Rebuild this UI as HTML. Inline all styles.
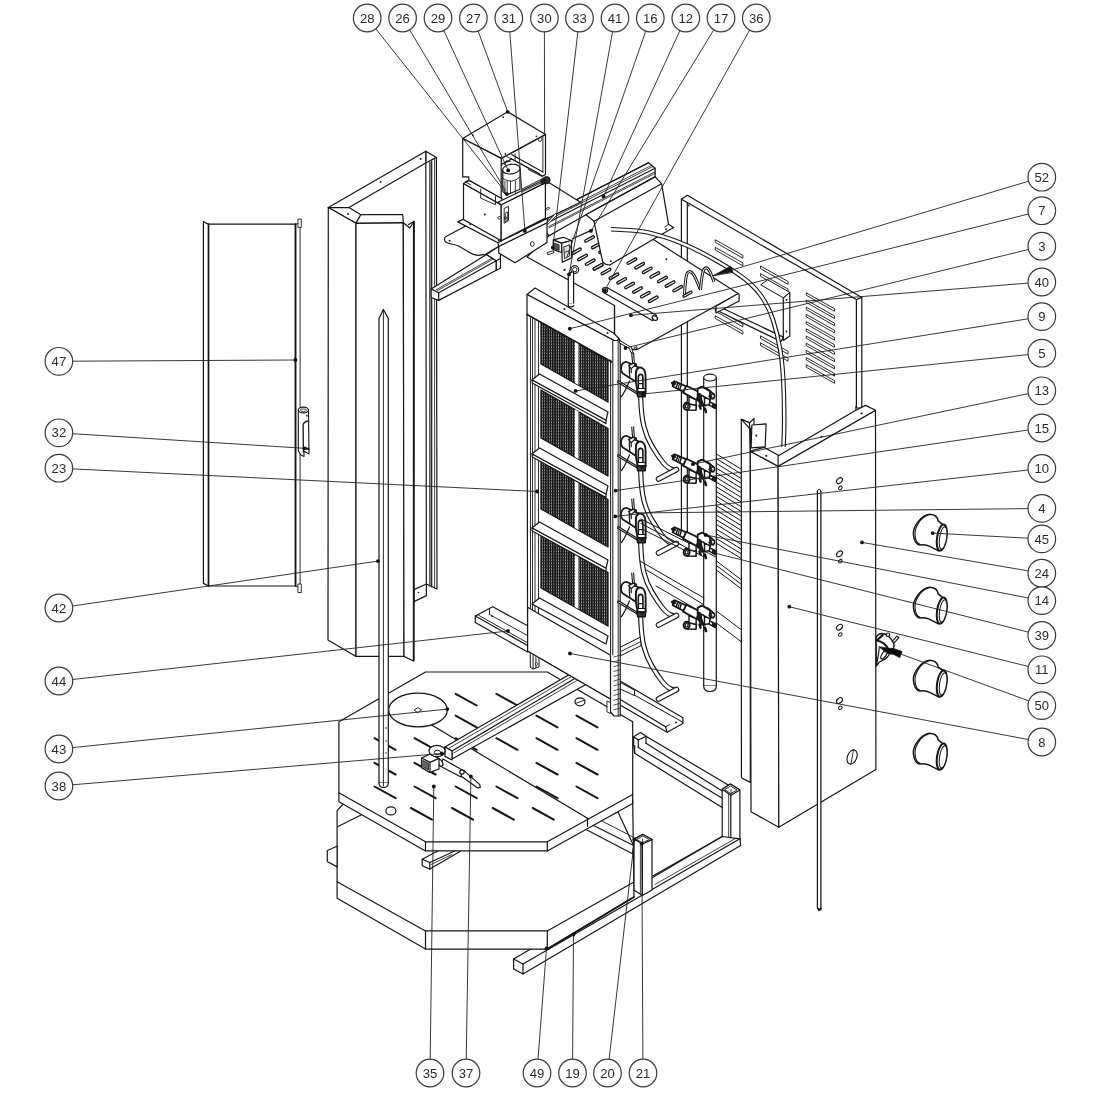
<!DOCTYPE html>
<html><head><meta charset="utf-8"><title>Exploded view</title>
<style>
html,body{margin:0;padding:0;background:#fff;}
body{width:1100px;height:1100px;overflow:hidden;}
svg{display:block;font-family:"Liberation Sans",sans-serif;}
svg path,svg line{stroke-linecap:round;stroke-linejoin:round;}
</style></head><body>
<svg width="1100" height="1100" viewBox="0 0 1100 1100">
<rect width="1100" height="1100" fill="#fff"/>
<defs><pattern id="mesh" width="2.3" height="1.5" patternUnits="userSpaceOnUse"><rect width="2.3" height="1.5" fill="#fff"/><rect x="0" y="0" width="1.7" height="1.5" fill="#0c0c0c"/><rect x="0" y="0" width="2.3" height="0.7" fill="#222"/></pattern></defs>
<path d="M681.4,199.2 L687.3,195.3 L861.8,297.4 L861.8,408.0 L856.4,408.0 L856.4,299.6 L687.3,202.6 L687.3,533.0 L681.4,531.0 Z" fill="none" stroke="#151515" stroke-width="1.2" />
<line x1="681.4" y1="199.2" x2="687.3" y2="202.6" stroke="#151515" stroke-width="1.2"/>
<line x1="856.4" y1="299.6" x2="861.8" y2="297.4" stroke="#151515" stroke-width="1.2"/>
<circle cx="688.8" cy="205.5" r="0.9" fill="#222"/>
<path d="M806.6,293.0 L834.5,308.7 L834.5,311.3 L806.6,295.4 Z" fill="none" stroke="#151515" stroke-width="0.9" />
<path d="M806.6,300.2 L834.5,315.9 L834.5,318.5 L806.6,302.6 Z" fill="none" stroke="#151515" stroke-width="0.9" />
<path d="M806.6,307.4 L834.5,323.1 L834.5,325.7 L806.6,309.8 Z" fill="none" stroke="#151515" stroke-width="0.9" />
<path d="M806.6,314.6 L834.5,330.3 L834.5,332.9 L806.6,317.0 Z" fill="none" stroke="#151515" stroke-width="0.9" />
<path d="M806.6,321.8 L834.5,337.5 L834.5,340.1 L806.6,324.2 Z" fill="none" stroke="#151515" stroke-width="0.9" />
<path d="M806.6,329.0 L834.5,344.7 L834.5,347.3 L806.6,331.4 Z" fill="none" stroke="#151515" stroke-width="0.9" />
<path d="M806.6,336.2 L834.5,351.9 L834.5,354.5 L806.6,338.6 Z" fill="none" stroke="#151515" stroke-width="0.9" />
<path d="M806.6,343.4 L834.5,359.1 L834.5,361.7 L806.6,345.8 Z" fill="none" stroke="#151515" stroke-width="0.9" />
<path d="M806.6,350.6 L834.5,366.3 L834.5,368.9 L806.6,353.0 Z" fill="none" stroke="#151515" stroke-width="0.9" />
<path d="M806.6,357.8 L834.5,373.5 L834.5,376.1 L806.6,360.2 Z" fill="none" stroke="#151515" stroke-width="0.9" />
<path d="M806.6,365.0 L834.5,380.7 L834.5,383.3 L806.6,367.4 Z" fill="none" stroke="#151515" stroke-width="0.9" />
<path d="M715.6,240.0 L742.9,255.3 L742.9,258.2 L715.6,242.6 Z" fill="none" stroke="#151515" stroke-width="0.9" />
<path d="M715.6,247.6 L742.9,262.9 L742.9,265.8 L715.6,250.2 Z" fill="none" stroke="#151515" stroke-width="0.9" />
<path d="M760.8,266.2 L788.1,281.5 L788.1,284.4 L760.8,268.8 Z" fill="none" stroke="#151515" stroke-width="0.9" />
<path d="M760.8,273.8 L788.1,289.1 L788.1,292.0 L760.8,276.4 Z" fill="none" stroke="#151515" stroke-width="0.9" />
<path d="M715.6,308.7 L742.9,324.0 L742.9,326.9 L715.6,311.3 Z" fill="none" stroke="#151515" stroke-width="0.9" />
<path d="M715.6,316.0 L742.9,331.3 L742.9,334.2 L715.6,318.6 Z" fill="none" stroke="#151515" stroke-width="0.9" />
<path d="M760.8,336.0 L788.1,351.3 L788.1,354.2 L760.8,338.6 Z" fill="none" stroke="#151515" stroke-width="0.9" />
<path d="M760.8,343.0 L788.1,358.3 L788.1,361.2 L760.8,345.6 Z" fill="none" stroke="#151515" stroke-width="0.9" />
<path d="M718.9,306.5 L783.3,337.1 L781.1,341.5 L715.6,309.8 Z" fill="#fff" stroke="#151515" stroke-width="1.2" />
<path d="M783.3,297.8 L789.8,292.4 L789.8,336.0 L783.3,340.4 Z" fill="#fff" stroke="#151515" stroke-width="1.2" />
<path d="M761.0,285.0 L783.3,297.8 L789.8,292.4 L768.0,280.0 Z" fill="#fff" stroke="#151515" stroke-width="1.0" />
<circle cx="786.5" cy="300.0" r="0.9" fill="#222"/>
<circle cx="786.5" cy="331.5" r="0.9" fill="#222"/>
<path d="M203.4,221.6 L208.5,224.2 L295.6,224.2 L295.6,586.0 L208.5,586.0 L203.4,583.4 Z" fill="#fff" stroke="#151515" stroke-width="1.2" />
<line x1="208.5" y1="224.2" x2="208.5" y2="586.0" stroke="#151515" stroke-width="1.7"/>
<path d="M295.6,224.2 L300.1,223.0 L300.1,588.0 L295.6,586.0 Z" fill="#fff" stroke="#151515" stroke-width="0.9" />
<line x1="295.6" y1="224.2" x2="295.6" y2="586.0" stroke="#151515" stroke-width="1.7"/>
<path d="M298.3,219.0 L301.3,219.0 L301.3,227.4 L298.3,227.4 Z" fill="#fff" stroke="#151515" stroke-width="0.9" />
<path d="M298.3,584.0 L301.3,584.0 L301.3,592.5 L298.3,592.5 Z" fill="#fff" stroke="#151515" stroke-width="0.9" />
<path d="M298.3,410.0 L298.3,451.0 L301.0,455.0 L304.0,456.5 L304.0,451.0 L309.0,454.0 L308.5,410.0 Z" fill="#fff" stroke="#151515" stroke-width="1.1" />
<ellipse cx="303.4" cy="410.0" rx="5.1" ry="2.9" transform="rotate(0 303.4 410.0)" fill="#fff" stroke="#151515" stroke-width="1.2"/>
<ellipse cx="303.3" cy="410.2" rx="3.2" ry="1.3" transform="rotate(0 303.3 410.2)" fill="#fff" stroke="#151515" stroke-width="0.8"/>
<path d="M308,421 Q303.5,422 303.1,425 L303.4,452" fill="none" stroke="#151515" stroke-width="1.3" />
<line x1="304.5" y1="448.0" x2="308.5" y2="449.0" stroke="#151515" stroke-width="2.0"/>
<circle cx="307.0" cy="415.7" r="0.9" fill="#222"/>
<path d="M425.8,151.2 L436.4,157.5 L437.0,589.0 L426.4,584.0 Z" fill="#fff" stroke="#151515" stroke-width="1.2" />
<line x1="429.9" y1="162.0" x2="429.9" y2="586.0" stroke="#151515" stroke-width="1.2"/>
<line x1="431.7" y1="161.0" x2="431.7" y2="587.0" stroke="#151515" stroke-width="1.2"/>
<line x1="434.6" y1="159.0" x2="434.6" y2="588.0" stroke="#151515" stroke-width="0.8"/>
<line x1="425.8" y1="163.0" x2="435.3" y2="157.9" stroke="#151515" stroke-width="1.2"/>
<path d="M414.0,589.6 L426.4,584.0 L426.4,595.6 L414.0,601.6 Z" fill="#fff" stroke="#151515" stroke-width="1.2" />
<circle cx="418.5" cy="592.5" r="0.8" fill="#222"/>
<path d="M328.3,207.6 L425.8,151.2 L425.8,163.0 L349.0,207.6 Z" fill="#fff" stroke="#151515" stroke-width="1.2" />
<path d="M328.3,207.6 L349.0,207.6 L360.8,214.7 L356.0,223.3 Z" fill="#fff" stroke="#151515" stroke-width="1.2" />
<circle cx="420.7" cy="158.9" r="1.0" fill="#222"/>
<circle cx="380.6" cy="182.0" r="1.0" fill="#222"/>
<circle cx="348.0" cy="214.1" r="1.0" fill="#222"/>
<circle cx="382.6" cy="219.8" r="1.0" fill="#222"/>
<path d="M328.3,207.6 L356.0,223.3 L356.0,656.4 L328.0,640.0 Z" fill="#fff" stroke="#151515" stroke-width="1.2" />
<path d="M356.0,223.3 L360.8,214.7 L402.7,214.5 L403.3,222.7 L404.0,656.4 L356.0,656.4 Z" fill="#fff" stroke="#151515" stroke-width="1.2" />
<line x1="356.0" y1="223.3" x2="403.3" y2="222.7" stroke="#151515" stroke-width="1.4"/>
<path d="M403.3,222.7 L409.8,228.0 L414.0,221.5 L413.6,661.0 L404.0,656.4 Z" fill="#fff" stroke="#151515" stroke-width="1.2" />
<line x1="408.6" y1="224.5" x2="414.0" y2="221.5" stroke="#151515" stroke-width="1.2"/>
<line x1="413.8" y1="222.0" x2="413.7" y2="660.5" stroke="#151515" stroke-width="1.8"/>
<path d="M527,257 L614.5,305.5 L614.5,338 L618,340 L630.5,348.2 Q634.5,351 638.5,348.8 L738.2,293.6 L739.1,294.5 L739.1,301 L716,313 L716,306.2 L738.2,293.6 L599.7,205.3 L549,235.8 Z" fill="#fff" stroke="#151515" stroke-width="1.2" />
<rect x="626.5" y="260.0" width="10.8" height="2.3" rx="1.15" transform="rotate(-29.0 631.9 261.2)" fill="#fff" stroke="#151515" stroke-width="1.3"/>
<rect x="634.2" y="264.6" width="10.8" height="2.3" rx="1.15" transform="rotate(-29.0 639.6 265.7)" fill="#fff" stroke="#151515" stroke-width="1.3"/>
<rect x="641.8" y="269.2" width="10.8" height="2.3" rx="1.15" transform="rotate(-29.0 647.2 270.3)" fill="#fff" stroke="#151515" stroke-width="1.3"/>
<rect x="649.4" y="273.8" width="10.8" height="2.3" rx="1.15" transform="rotate(-29.0 654.8 274.9)" fill="#fff" stroke="#151515" stroke-width="1.3"/>
<rect x="657.1" y="278.3" width="10.8" height="2.3" rx="1.15" transform="rotate(-29.0 662.5 279.5)" fill="#fff" stroke="#151515" stroke-width="1.3"/>
<rect x="664.7" y="282.9" width="10.8" height="2.3" rx="1.15" transform="rotate(-29.0 670.1 284.1)" fill="#fff" stroke="#151515" stroke-width="1.3"/>
<rect x="672.3" y="287.5" width="10.8" height="2.3" rx="1.15" transform="rotate(-29.0 677.7 288.7)" fill="#fff" stroke="#151515" stroke-width="1.3"/>
<rect x="592.8" y="265.8" width="10.8" height="2.3" rx="1.15" transform="rotate(-29.0 598.2 267.0)" fill="#fff" stroke="#151515" stroke-width="1.3"/>
<rect x="600.6" y="270.4" width="10.8" height="2.3" rx="1.15" transform="rotate(-29.0 606.0 271.6)" fill="#fff" stroke="#151515" stroke-width="1.3"/>
<rect x="608.5" y="275.1" width="10.8" height="2.3" rx="1.15" transform="rotate(-29.0 613.9 276.2)" fill="#fff" stroke="#151515" stroke-width="1.3"/>
<rect x="616.3" y="279.7" width="10.8" height="2.3" rx="1.15" transform="rotate(-29.0 621.7 280.8)" fill="#fff" stroke="#151515" stroke-width="1.3"/>
<rect x="624.2" y="284.3" width="10.8" height="2.3" rx="1.15" transform="rotate(-29.0 629.6 285.4)" fill="#fff" stroke="#151515" stroke-width="1.3"/>
<rect x="632.1" y="288.9" width="10.8" height="2.3" rx="1.15" transform="rotate(-29.0 637.5 290.0)" fill="#fff" stroke="#151515" stroke-width="1.3"/>
<rect x="639.9" y="293.5" width="10.8" height="2.3" rx="1.15" transform="rotate(-29.0 645.3 294.6)" fill="#fff" stroke="#151515" stroke-width="1.3"/>
<rect x="647.8" y="298.1" width="10.8" height="2.3" rx="1.15" transform="rotate(-29.0 653.2 299.3)" fill="#fff" stroke="#151515" stroke-width="1.3"/>
<rect x="571.0" y="250.1" width="10.8" height="2.3" rx="1.15" transform="rotate(-29.0 576.4 251.3)" fill="#fff" stroke="#151515" stroke-width="1.3"/>
<rect x="577.1" y="256.4" width="10.8" height="2.3" rx="1.15" transform="rotate(-29.0 582.5 257.5)" fill="#fff" stroke="#151515" stroke-width="1.3"/>
<rect x="584.8" y="261.0" width="10.8" height="2.3" rx="1.15" transform="rotate(-29.0 590.2 262.2)" fill="#fff" stroke="#151515" stroke-width="1.3"/>
<rect x="592.5" y="265.7" width="10.8" height="2.3" rx="1.15" transform="rotate(-29.0 597.9 266.8)" fill="#fff" stroke="#151515" stroke-width="1.3"/>
<rect x="584.1" y="237.8" width="10.8" height="2.3" rx="1.15" transform="rotate(-29.0 589.5 238.9)" fill="#fff" stroke="#151515" stroke-width="1.3"/>
<rect x="591.0" y="244.4" width="10.8" height="2.3" rx="1.15" transform="rotate(-29.0 596.4 245.6)" fill="#fff" stroke="#151515" stroke-width="1.3"/>
<rect x="598.3" y="249.1" width="10.8" height="2.3" rx="1.15" transform="rotate(-29.0 603.7 250.3)" fill="#fff" stroke="#151515" stroke-width="1.3"/>
<circle cx="666.3" cy="259.3" r="1.0" fill="#222"/>
<circle cx="564.7" cy="269.5" r="0.9" fill="#222"/>
<path d="M648.5,162.8 L655.1,168.2 L655.1,176.9 L586.0,214.7 L548.9,235.8 L546.0,231.5 L530.0,231.5 L530.0,223.5 Z" fill="#fff" stroke="#151515" stroke-width="1.2" />
<line x1="648.5" y1="162.8" x2="530.0" y2="223.5" stroke="#151515" stroke-width="1.2"/>
<line x1="655.1" y1="168.2" x2="532.9" y2="230.3" stroke="#151515" stroke-width="1.2"/>
<line x1="655.1" y1="176.9" x2="586.0" y2="214.7" stroke="#151515" stroke-width="1.2"/>
<line x1="651.5" y1="165.3" x2="535.8" y2="224.5" stroke="#151515" stroke-width="0.8"/>
<line x1="652.9" y1="166.4" x2="537.3" y2="225.6" stroke="#151515" stroke-width="0.8"/>
<line x1="655.1" y1="171.8" x2="548.9" y2="226.4" stroke="#151515" stroke-width="0.8"/>
<line x1="655.1" y1="173.3" x2="548.9" y2="227.8" stroke="#151515" stroke-width="0.8"/>
<path d="M586.0,214.7 L594.0,221.3 L602.7,262.0 Q605.6,265.2 609.7,264.9 L669.6,229.7 L673.7,227.8 L668.5,224.2 L661.6,183.7 L655.1,176.9 Z" fill="#fff" stroke="#151515" stroke-width="1.2" />
<line x1="594.0" y1="221.3" x2="661.6" y2="183.7" stroke="#151515" stroke-width="1.2"/>
<line x1="668.5" y1="224.2" x2="664.5" y2="227.1" stroke="#151515" stroke-width="0.9"/>
<circle cx="610.7" cy="261.3" r="1.0" fill="#222"/>
<circle cx="666.0" cy="229.3" r="1.0" fill="#222"/>
<path d="M431.1,288.9 L486.5,254.6 L496.3,260.7 L496.3,270.2 L438.7,300.4 L431.1,297.5 Z" fill="#fff" stroke="#151515" stroke-width="1.2" />
<line x1="438.7" y1="292.7" x2="496.3" y2="260.7" stroke="#151515" stroke-width="1.2"/>
<line x1="438.7" y1="292.7" x2="438.7" y2="300.4" stroke="#151515" stroke-width="1.2"/>
<line x1="431.1" y1="288.9" x2="438.7" y2="292.7" stroke="#151515" stroke-width="1.2"/>
<line x1="437.5" y1="290.6" x2="494.5" y2="258.4" stroke="#151515" stroke-width="0.8"/>
<line x1="436.5" y1="289.6" x2="493.5" y2="257.4" stroke="#151515" stroke-width="0.8"/>
<path d="M446.5,236.3 L548.0,182.0 L580.5,202.3 L547.8,218.1 L498.7,246.5 L485.5,254.3 L478,255.3 Q473,255 469.5,252.6 L459,246.3 Q456,244.6 451.5,244 Q444.5,243 444.4,239.5 Q444.4,237.3 446.5,236.3 Z" fill="#fff" stroke="#151515" stroke-width="1.2" />
<circle cx="449.6" cy="240.7" r="1.0" fill="#222"/>
<circle cx="564.2" cy="270.2" r="0.9" fill="#222"/>
<ellipse cx="547.5" cy="208.8" rx="2.4" ry="0.9" transform="rotate(-27 547.5 208.8)" fill="#fff" stroke="#151515" stroke-width="0.8"/>
<path d="M486.5,254.6 L496.3,260.7 L496.3,270.2 L500.4,268.2 L500.4,253.8 L498.7,246.5 Z" fill="#fff" stroke="#151515" stroke-width="1.2" />
<line x1="496.3" y1="260.7" x2="500.4" y2="258.4" stroke="#151515" stroke-width="1.2"/>
<path d="M498.7,246.5 L547.0,222.7 L547.0,242.4 L515.1,262.8 L498.7,253.0 Z" fill="#fff" stroke="#151515" stroke-width="1.2" />
<ellipse cx="532.3" cy="244.0" rx="1.9" ry="2.4" fill="#fff" stroke="#151515" stroke-width="0.9"/>
<path d="M547.0,222.7 L556.0,212.9 L556.8,215.4 L547.8,224.4 Z" fill="#fff" stroke="#151515" stroke-width="0.9" />
<path d="M457.8,221.9 L463.5,219.1 L502.0,240.4 L497.9,242.7 Z" fill="#fff" stroke="#151515" stroke-width="1.2" />
<path d="M497.9,242.7 L502.0,240.4 L547.8,218.1 L547.0,222.7 L498.7,246.5 Z" fill="#fff" stroke="#151515" stroke-width="1.2" />
<path d="M463.5,183.5 L501.2,204.7 L501.2,240.7 L463.5,219.5 Z" fill="#fff" stroke="#151515" stroke-width="1.2" />
<path d="M501.2,204.7 L545.4,182.6 L545.4,218.1 L501.2,240.7 Z" fill="#fff" stroke="#151515" stroke-width="1.2" />
<circle cx="484.8" cy="214.5" r="1.0" fill="#222"/>
<circle cx="470.1" cy="224.4" r="0.9" fill="#222"/>
<circle cx="498.7" cy="240.4" r="0.9" fill="#222"/>
<path d="M463.5,183.5 L469.3,180.5 L502.0,198.2 L501.2,204.7 Z" fill="#fff" stroke="#151515" stroke-width="1.2" />
<path d="M480.7,189.2 L480.7,198.2 L495.5,204.7 L495.5,196.5" fill="none" stroke="#151515" stroke-width="0.9" />
<path d="M497.9,202.3 L542.9,180.2 L545.4,182.6 L501.2,204.7 Z" fill="#fff" stroke="#151515" stroke-width="1.2" />
<path d="M504.5,208.3 L508.5,206.4 L508.5,220.8 L504.5,223.1 Z" fill="none" stroke="#151515" stroke-width="0.9" />
<path d="M505.6,212.9 L507.6,211.9 L507.6,220.3 L505.6,221.4 Z" fill="none" stroke="#151515" stroke-width="0.8" />
<ellipse cx="499.4" cy="217.8" rx="1.6" ry="1.2" fill="none" stroke="#151515" stroke-width="0.8"/>
<ellipse cx="505.6" cy="218.1" rx="1.3" ry="1.3" fill="none" stroke="#151515" stroke-width="0.8"/>
<path d="M501.2,158.4 L545.5,134.4 L545.5,174.5 L542.6,176.1 L511.8,158.9 L501.2,164.6 Z" fill="#fff" stroke="#151515" stroke-width="1.2" />
<line x1="511.8" y1="154.8" x2="542.9" y2="172.0" stroke="#151515" stroke-width="1.2"/>
<line x1="506.9" y1="156.5" x2="539.6" y2="173.6" stroke="#151515" stroke-width="0.9"/>
<line x1="542.9" y1="136.8" x2="542.9" y2="172.0" stroke="#151515" stroke-width="0.9"/>
<line x1="515.1" y1="154.0" x2="515.1" y2="159.7" stroke="#151515" stroke-width="0.9"/>
<line x1="528.2" y1="169.5" x2="542.6" y2="176.9" stroke="#151515" stroke-width="0.9"/>
<ellipse cx="540.0" cy="139.3" rx="1.6" ry="2.2" fill="none" stroke="#151515" stroke-width="0.8"/>
<path d="M502.8,169.5 L502.8,191.6 L506.9,194.9 L520.0,189.2 L520.0,169.5 Z" fill="#fff" stroke="#151515" stroke-width="1.2" />
<line x1="504.9" y1="181.0" x2="504.9" y2="193.6" stroke="#151515" stroke-width="0.8"/>
<line x1="507.2" y1="181.0" x2="507.2" y2="193.6" stroke="#151515" stroke-width="0.8"/>
<line x1="510.5" y1="181.0" x2="510.5" y2="193.6" stroke="#151515" stroke-width="0.8"/>
<line x1="515.4" y1="181.0" x2="515.4" y2="193.6" stroke="#151515" stroke-width="0.8"/>
<path d="M502.8,178.2 Q511.8,185.1 520.0,176.9" fill="none" stroke="#151515" stroke-width="0.9" />
<ellipse cx="511.3" cy="169.1" rx="8.7" ry="4.8" transform="rotate(-8 511.3 169.1)" fill="#fff" stroke="#151515" stroke-width="1.1"/>
<line x1="506.9" y1="160.5" x2="504.5" y2="164.6" stroke="#151515" stroke-width="0.9"/>
<line x1="504.5" y1="162.2" x2="510.2" y2="161.4" stroke="#151515" stroke-width="0.9"/>
<line x1="521.6" y1="189.2" x2="542.9" y2="178.5" stroke="#151515" stroke-width="0.9"/>
<line x1="522.5" y1="191.6" x2="543.7" y2="181.5" stroke="#151515" stroke-width="0.9"/>
<circle cx="546.5" cy="180.2" r="3.6" fill="#333" stroke="#111" stroke-width="1"/>
<circle cx="543.2" cy="181.5" r="2.6" fill="#222" stroke="#111" stroke-width="0.8"/>
<path d="M507.7,111.8 L545.5,134.4 L501.2,158.4 L462.7,138.5 Z" fill="#fff" stroke="#151515" stroke-width="1.2" />
<path d="M462.7,138.5 L501.2,158.4 L501.2,198.2 L468.8,179.9 L468.8,176.9 L462.7,176.9 Z" fill="#fff" stroke="#151515" stroke-width="1.2" />
<line x1="468.8" y1="179.9" x2="465.2" y2="181.8" stroke="#151515" stroke-width="0.9"/>
<line x1="465.2" y1="181.8" x2="470.9" y2="185.1" stroke="#151515" stroke-width="0.9"/>
<circle cx="503.3" cy="117.2" r="0.9" fill="#222"/>
<circle cx="472.9" cy="135.2" r="0.9" fill="#222"/>
<circle cx="536.4" cy="136.3" r="0.9" fill="#222"/>
<circle cx="505.3" cy="154.0" r="0.9" fill="#222"/>
<line x1="572.2" y1="239.0" x2="592.8" y2="229.6" stroke="#151515" stroke-width="1.2"/>
<path d="M553.3,239.9 L561.7,243.1 L561.7,252.5 L553.3,249.6 Z" fill="#fff" stroke="#151515" stroke-width="1.2" />
<path d="M553.3,239.9 L563.2,237.3 L571.5,240.5 L561.7,243.1 Z" fill="#fff" stroke="#151515" stroke-width="1.2" />
<path d="M561.7,243.1 L571.5,240.5 L571.5,257.9 L562.3,262.3 Z" fill="#fff" stroke="#151515" stroke-width="1.2" />
<path d="M564.2,246.7 L569.6,244.8 L569.6,255.9 L564.9,258.5 Z" fill="#ddd" stroke="#151515" stroke-width="0.9" />
<line x1="564.5" y1="252.5" x2="569.6" y2="250.4" stroke="#151515" stroke-width="0.8"/>
<path d="M554.0,243.1 L559.1,244.8 L559.1,250.4 L554.0,248.6 Z" fill="#555" stroke="#151515" stroke-width="0.8" />
<path d="M547.5,252.5 L553.3,250.7 L554.0,252.7 L548.2,254.7 Z" fill="#fff" stroke="#151515" stroke-width="0.9" />
<circle cx="574.8" cy="269.6" r="3.9" fill="#fff" stroke="#151515" stroke-width="1.2"/>
<circle cx="574.8" cy="269.6" r="2.2" fill="#fff" stroke="#151515" stroke-width="0.9"/>
<path d="M568.3,273.6 L573.6,271.5 L573.6,305.3 L568.3,305.3 Z" fill="#fff" stroke="#151515" stroke-width="1.2" />
<ellipse cx="570.9" cy="305.3" rx="2.7" ry="1.5" transform="rotate(0 570.9 305.3)" fill="#fff" stroke="#151515" stroke-width="1.2"/>
<rect x="568.9" y="303.5" width="5.4" height="1.6" fill="#fff"/>
<path d="M606.9,287.6 L656.4,315.3 L652.7,320.7 L604.0,292.7 Z" fill="#fff" stroke="#151515" stroke-width="1.2" />
<circle cx="605.0" cy="290.1" r="2.6" fill="#fff" stroke="#151515" stroke-width="1.2"/>
<ellipse cx="654.8" cy="318.0" rx="2.9" ry="2.0" transform="rotate(35 654.8 318.0)" fill="#fff" stroke="#151515" stroke-width="1.2"/>
<path d="M475.3,616.0 L492.7,606.8 L527.6,625.8 L527.6,652.0 L475.3,622.5 Z" fill="#fff" stroke="#151515" stroke-width="1.2" />
<line x1="475.3" y1="616.0" x2="527.6" y2="645.5" stroke="#151515" stroke-width="1.2"/>
<line x1="477.9" y1="614.9" x2="527.6" y2="642.8" stroke="#151515" stroke-width="0.9"/>
<line x1="489.5" y1="609.0" x2="489.5" y2="614.5" stroke="#151515" stroke-width="0.9"/>
<line x1="489.5" y1="614.5" x2="527.6" y2="635.6" stroke="#151515" stroke-width="0.9"/>
<circle cx="492.1" cy="616.2" r="0.9" fill="#222"/>
<path d="M620.2,680.9 L682.9,717.7 L682.9,723.5 L667.1,732.2 L615.8,702.4 L615.8,696.7 L620.2,694.5 Z" fill="#fff" stroke="#151515" stroke-width="1.2" />
<line x1="620.2" y1="687.1" x2="681.3" y2="721.3" stroke="#151515" stroke-width="1.0"/>
<line x1="615.8" y1="696.7" x2="665.5" y2="726.7" stroke="#151515" stroke-width="1.2"/>
<line x1="665.5" y1="726.7" x2="667.1" y2="732.2" stroke="#151515" stroke-width="1.2"/>
<line x1="665.5" y1="726.7" x2="669.8" y2="724.5" stroke="#151515" stroke-width="0.9"/>
<line x1="681.3" y1="721.3" x2="682.9" y2="723.5" stroke="#151515" stroke-width="0.9"/>
<circle cx="676.0" cy="722.6" r="1.0" fill="#222"/>
<path d="M620.4,647.2 L641.1,636.7 L641.1,645.5 L620.4,655.9 Z" fill="#fff" stroke="#151515" stroke-width="1.0" />
<line x1="620.4" y1="651.6" x2="641.1" y2="641.5" stroke="#151515" stroke-width="0.9"/>
<path d="M620.4,682.5 L634.5,690.2 L634.5,695.6 L620.4,689.1 Z" fill="#fff" stroke="#151515" stroke-width="1.0" />
<path d="M633.6,736.7 L640.6,732.5 L646.0,736.3 L730.0,786.0 L722.2,807.6 L634.7,753.3 L633.6,745.0 Z" fill="#fff" stroke="#151515" stroke-width="1.2" />
<line x1="646.0" y1="736.3" x2="646.0" y2="743.3" stroke="#151515" stroke-width="1.2"/>
<line x1="646.0" y1="743.3" x2="722.2" y2="791.1" stroke="#151515" stroke-width="1.2"/>
<line x1="638.3" y1="747.4" x2="722.2" y2="798.2" stroke="#151515" stroke-width="1.2"/>
<line x1="633.6" y1="736.7" x2="638.3" y2="740.0" stroke="#151515" stroke-width="1.2"/>
<line x1="638.3" y1="740.0" x2="646.0" y2="736.3" stroke="#151515" stroke-width="1.2"/>
<line x1="638.3" y1="740.0" x2="638.3" y2="747.4" stroke="#151515" stroke-width="1.2"/>
<line x1="634.7" y1="753.3" x2="634.7" y2="745.5" stroke="#151515" stroke-width="1.2"/>
<path d="M722.2,789.2 L730.4,784.0 L739.9,790.0 L739.9,845.5 L730.4,850.0 L722.2,845.0 Z" fill="#fff" stroke="#151515" stroke-width="1.2" />
<path d="M722.2,789.2 L730.4,784.0 L739.9,790.0 L730.8,795.3 Z" fill="#fff" stroke="#151515" stroke-width="1.2" />
<line x1="730.8" y1="795.3" x2="730.8" y2="844.0" stroke="#151515" stroke-width="1.2"/>
<line x1="728.7" y1="794.0" x2="728.7" y2="842.0" stroke="#151515" stroke-width="0.8"/>
<path d="M725.0,789.4 L730.5,786.0 L737.0,790.0 L731.0,793.4 Z" fill="#fff" stroke="#151515" stroke-width="0.9" />
<line x1="731.0" y1="793.4" x2="731.0" y2="789.5" stroke="#151515" stroke-width="0.8"/>
<path d="M739.9,838.8 L740.6,845.5 L523.0,974.0 L513.6,969.0 L513.6,959.0 L560.0,932.0 L722.2,836.5 Z" fill="#fff" stroke="#151515" stroke-width="1.2" />
<line x1="739.9" y1="838.8" x2="523.0" y2="964.0" stroke="#151515" stroke-width="1.2"/>
<line x1="523.0" y1="964.0" x2="523.0" y2="974.0" stroke="#151515" stroke-width="1.2"/>
<line x1="513.6" y1="959.0" x2="523.0" y2="964.0" stroke="#151515" stroke-width="1.2"/>
<line x1="722.2" y1="836.5" x2="653.2" y2="875.7" stroke="#151515" stroke-width="1.2"/>
<line x1="736.0" y1="838.2" x2="655.0" y2="884.5" stroke="#151515" stroke-width="0.8"/>
<path d="M337.1,810.6 L337.1,898.2 L425.5,949.1 L547.3,949.1 L634.0,897.0 L632.7,800.0 L547.3,845.0 L425.5,845.0 L347.0,800.0 Z" fill="#fff" stroke="#151515" stroke-width="1.2" />
<line x1="338.0" y1="826.5" x2="362.0" y2="814.5" stroke="#151515" stroke-width="1.2"/>
<path d="M337.1,881.8 L425.5,930.9 L547.3,930.9 L634.0,882.0" fill="none" stroke="#151515" stroke-width="1.2" />
<line x1="425.5" y1="930.9" x2="425.5" y2="949.1" stroke="#151515" stroke-width="1.2"/>
<line x1="547.3" y1="930.9" x2="547.3" y2="949.1" stroke="#151515" stroke-width="1.2"/>
<line x1="547.3" y1="949.1" x2="634.0" y2="897.0" stroke="#151515" stroke-width="1.8"/>
<path d="M582.7,827.7 L632.4,853.7 L633.5,845.5 L618.0,812.0 Z" fill="#fff" stroke="#151515" stroke-width="1.2" />
<line x1="591.0" y1="824.2" x2="633.5" y2="845.5" stroke="#151515" stroke-width="1.2"/>
<line x1="599.0" y1="819.5" x2="633.0" y2="837.0" stroke="#151515" stroke-width="0.9"/>
<path d="M327.3,850.5 L337.1,846.2 L337.1,866.9 L327.3,861.5 Z" fill="#fff" stroke="#151515" stroke-width="1.2" />
<path d="M422.2,859.3 L434.0,853.0 L460.0,840.0 L460.0,851.5 L429.8,869.1 L422.2,865.8 Z" fill="#fff" stroke="#151515" stroke-width="1.2" />
<line x1="422.2" y1="859.3" x2="429.8" y2="862.5" stroke="#151515" stroke-width="1.2"/>
<line x1="429.8" y1="862.5" x2="429.8" y2="869.1" stroke="#151515" stroke-width="1.2"/>
<line x1="429.8" y1="862.5" x2="458.0" y2="849.5" stroke="#151515" stroke-width="1.2"/>
<line x1="431.0" y1="864.5" x2="452.0" y2="854.5" stroke="#151515" stroke-width="0.8"/>
<path d="M634.0,839.0 L643.0,834.4 L652.0,839.6 L652.0,890.0 L642.4,895.6 L634.0,890.0 Z" fill="#fff" stroke="#151515" stroke-width="1.2" />
<path d="M634.0,839.0 L643.0,834.4 L652.0,839.6 L642.4,844.0 Z" fill="#fff" stroke="#151515" stroke-width="1.2" />
<line x1="642.4" y1="844.0" x2="642.4" y2="895.0" stroke="#151515" stroke-width="1.2"/>
<line x1="640.4" y1="843.0" x2="640.4" y2="894.0" stroke="#151515" stroke-width="0.8"/>
<path d="M636.8,839.2 L643.0,836.0 L649.3,839.7 L642.6,842.6 Z" fill="#fff" stroke="#151515" stroke-width="0.9" />
<line x1="642.6" y1="842.6" x2="642.6" y2="839.0" stroke="#151515" stroke-width="0.8"/>
<path d="M338.9,721.8 L425.5,672.0 L547.3,672.0 L632.7,721.8 L632.7,803.6 L547.3,850.9 L425.5,850.9 L338.9,801.8 Z" fill="#fff" stroke="#151515" stroke-width="1.2" />
<path d="M338.9,792.7 L425.5,841.8 L547.3,841.8 L632.7,794.5" fill="none" stroke="#151515" stroke-width="1.2" />
<line x1="425.5" y1="841.8" x2="425.5" y2="850.9" stroke="#151515" stroke-width="1.2"/>
<line x1="547.3" y1="841.8" x2="547.3" y2="850.9" stroke="#151515" stroke-width="1.2"/>
<line x1="415.0" y1="715.0" x2="587.5" y2="818.3" stroke="#151515" stroke-width="1.2"/>
<line x1="587.5" y1="818.3" x2="587.5" y2="826.5" stroke="#151515" stroke-width="1.2"/>
<line x1="374.5" y1="738.2" x2="395.6" y2="749.8" stroke="#151515" stroke-width="2.0"/>
<line x1="374.5" y1="762.9" x2="395.6" y2="774.5" stroke="#151515" stroke-width="2.0"/>
<line x1="374.5" y1="786.5" x2="395.6" y2="798.2" stroke="#151515" stroke-width="2.0"/>
<line x1="414.5" y1="738.2" x2="435.6" y2="749.8" stroke="#151515" stroke-width="2.0"/>
<line x1="414.5" y1="762.9" x2="435.6" y2="774.5" stroke="#151515" stroke-width="2.0"/>
<line x1="414.5" y1="786.5" x2="435.6" y2="798.2" stroke="#151515" stroke-width="2.0"/>
<line x1="410.9" y1="808.0" x2="432.0" y2="819.6" stroke="#151515" stroke-width="2.0"/>
<line x1="455.6" y1="693.8" x2="476.7" y2="705.5" stroke="#151515" stroke-width="2.0"/>
<line x1="455.6" y1="715.6" x2="476.7" y2="727.3" stroke="#151515" stroke-width="2.0"/>
<line x1="455.6" y1="738.2" x2="476.7" y2="749.8" stroke="#151515" stroke-width="2.0"/>
<line x1="455.6" y1="786.5" x2="476.7" y2="798.2" stroke="#151515" stroke-width="2.0"/>
<line x1="452.0" y1="808.0" x2="473.1" y2="819.6" stroke="#151515" stroke-width="2.0"/>
<line x1="496.4" y1="693.8" x2="517.5" y2="705.5" stroke="#151515" stroke-width="2.0"/>
<line x1="496.4" y1="738.2" x2="517.5" y2="749.8" stroke="#151515" stroke-width="2.0"/>
<line x1="496.4" y1="786.5" x2="517.5" y2="798.2" stroke="#151515" stroke-width="2.0"/>
<line x1="492.7" y1="808.0" x2="513.8" y2="819.6" stroke="#151515" stroke-width="2.0"/>
<line x1="536.4" y1="715.6" x2="557.5" y2="727.3" stroke="#151515" stroke-width="2.0"/>
<line x1="536.4" y1="738.2" x2="557.5" y2="749.8" stroke="#151515" stroke-width="2.0"/>
<line x1="536.4" y1="762.9" x2="557.5" y2="774.5" stroke="#151515" stroke-width="2.0"/>
<line x1="536.4" y1="786.5" x2="557.5" y2="798.2" stroke="#151515" stroke-width="2.0"/>
<line x1="532.7" y1="808.0" x2="553.8" y2="819.6" stroke="#151515" stroke-width="2.0"/>
<line x1="576.4" y1="715.6" x2="597.5" y2="727.3" stroke="#151515" stroke-width="2.0"/>
<line x1="576.4" y1="738.2" x2="597.5" y2="749.8" stroke="#151515" stroke-width="2.0"/>
<line x1="576.4" y1="762.9" x2="597.5" y2="774.5" stroke="#151515" stroke-width="2.0"/>
<line x1="576.4" y1="786.5" x2="597.5" y2="798.2" stroke="#151515" stroke-width="2.0"/>
<ellipse cx="390.9" cy="810.9" rx="5" ry="4" transform="rotate(0 390.9 810.9)" fill="#fff" stroke="#151515" stroke-width="1.2"/>
<ellipse cx="580.0" cy="701.8" rx="5" ry="4" transform="rotate(0 580.0 701.8)" fill="#fff" stroke="#151515" stroke-width="1.2"/>
<line x1="575.3" y1="703.6" x2="584.7" y2="700.0" stroke="#151515" stroke-width="0.9"/>
<path d="M445.0,747.0 L578.0,669.4 L585.0,672.4 L593.0,677.4 L593.0,680.4 L452.0,759.0 L445.0,754.0 Z" fill="#fff" stroke="#151515" stroke-width="1.2" />
<line x1="452.0" y1="751.0" x2="585.0" y2="672.4" stroke="#151515" stroke-width="1.2"/>
<line x1="452.0" y1="751.0" x2="452.0" y2="759.0" stroke="#151515" stroke-width="1.2"/>
<line x1="445.0" y1="747.0" x2="452.0" y2="751.0" stroke="#151515" stroke-width="1.2"/>
<line x1="454.0" y1="752.8" x2="587.0" y2="674.6" stroke="#151515" stroke-width="0.8"/>
<line x1="449.0" y1="748.2" x2="581.0" y2="671.0" stroke="#151515" stroke-width="0.8"/>
<path d="M443.0,759.0 L464.0,771.0 L461.0,777.0 L440.0,766.0 Z" fill="#fff" stroke="#151515" stroke-width="1.2" />
<ellipse cx="440.4" cy="762.8" rx="2.1" ry="3.6" transform="rotate(-25 440.4 762.8)" fill="#fff" stroke="#151515" stroke-width="1.2"/>
<path d="M463.6,770.4 L479.6,784.4 L480.4,787.2 L477.6,788.0 L461.0,776.0 Z" fill="#fff" stroke="#151515" stroke-width="1.2" />
<circle cx="462.0" cy="772.0" r="2.2" fill="#fff" stroke="#151515" stroke-width="1.2"/>
<path d="M421.6,758.0 L430.0,754.0 L439.0,758.4 L439.0,769.0 L430.0,772.4 L421.6,767.4 Z" fill="#fff" stroke="#151515" stroke-width="1.2" />
<path d="M421.6,758.0 L430.0,762.4 L430.0,772.4 L421.6,767.4 Z" fill="#fff" stroke="#151515" stroke-width="1.2" />
<line x1="430.0" y1="762.4" x2="439.0" y2="758.4" stroke="#151515" stroke-width="1.2"/>
<path d="M423.2,760.6 L428.6,763.4 L428.6,770.0 L423.2,767.0 Z" fill="#666" stroke="#151515" stroke-width="0.8" />
<path d="M445.0,747.0 L452.0,751.0 L452.0,760.0 L445.0,756.4 Z" fill="#fff" stroke="#151515" stroke-width="1.2" />
<ellipse cx="437.0" cy="751.0" rx="8" ry="5.6" transform="rotate(0 437.0 751.0)" fill="#fff" stroke="#151515" stroke-width="1.2"/>
<ellipse cx="437.4" cy="752.4" rx="3.2" ry="2.2" transform="rotate(0 437.4 752.4)" fill="#fff" stroke="#151515" stroke-width="1.0"/>
<ellipse cx="418.0" cy="710.0" rx="29.3" ry="16.8" transform="rotate(0 418.0 710.0)" fill="#fff" stroke="#151515" stroke-width="1.2"/>
<path d="M414.4,710.0 L418.0,707.6 L421.6,710.0 L418.0,712.4 Z" fill="none" stroke="#151515" stroke-width="0.9" />
<path d="M383.4,309.5 L379.0,318.5 L379.0,783.0 L388.3,783.0 L388.3,318.5 Z" fill="#fff" stroke="#151515" stroke-width="1.2" />
<path d="M379,783 Q379,787.5 383.6,787.5 Q388.3,787.5 388.3,783" fill="#fff" stroke="#151515" stroke-width="1.2" />
<line x1="383.4" y1="309.5" x2="383.4" y2="786.0" stroke="#151515" stroke-width="0.9"/>
<circle cx="386.0" cy="728.0" r="0.8" fill="#222"/>
<circle cx="386.0" cy="741.0" r="0.8" fill="#222"/>
<circle cx="386.0" cy="753.0" r="0.8" fill="#222"/>
<line x1="614.5" y1="305.5" x2="614.5" y2="340.0" stroke="#151515" stroke-width="1.2"/>
<path d="M527.0,294.5 L535.0,288.0 L613.5,333.0 L619.0,338.5 L617.5,340.5 L614.0,340.5 Z" fill="#fff" stroke="#151515" stroke-width="1.2" />
<path d="M527.0,294.5 L614.0,340.5 L617.5,340.5 L619.0,338.5 L620.2,341.0 L620.2,716.0 L614.0,716.0 L610.5,712.0 L610.5,699.0 L527.6,651.0 Z" fill="#fff" stroke="#151515" stroke-width="1.2" />
<line x1="618.2" y1="340.5" x2="618.2" y2="716.0" stroke="#151515" stroke-width="0.9"/>
<line x1="612.8" y1="341.0" x2="612.8" y2="655.0" stroke="#151515" stroke-width="1.0"/>
<line x1="610.6" y1="360.0" x2="610.6" y2="654.0" stroke="#151515" stroke-width="1.0"/>
<path d="M619.6,340.4 L631.5,347.5 L633.3,353.5 L630.8,352.5 L629.5,348.6 L619.6,343.0 Z" fill="#fff" stroke="#151515" stroke-width="1.0" />
<ellipse cx="635.6" cy="348.0" rx="1.6" ry="1.0" transform="rotate(-25 635.6 348.0)" fill="#fff" stroke="#151515" stroke-width="0.9"/>
<line x1="527.0" y1="314.5" x2="612.0" y2="362.0" stroke="#151515" stroke-width="1.6"/>
<line x1="530.5" y1="317.9" x2="530.5" y2="610.0" stroke="#151515" stroke-width="0.9"/>
<line x1="532.5" y1="319.0" x2="532.5" y2="611.1" stroke="#151515" stroke-width="0.9"/>
<line x1="535.0" y1="320.4" x2="535.0" y2="612.6" stroke="#151515" stroke-width="0.9"/>
<line x1="538.5" y1="322.3" x2="538.5" y2="614.6" stroke="#151515" stroke-width="0.9"/>
<circle cx="564.5" cy="309.0" r="1.0" fill="#222"/>
<circle cx="607.5" cy="333.0" r="1.0" fill="#222"/>
<circle cx="570.0" cy="328.7" r="1.0" fill="#222"/>
<path d="M541.0,322.5 L608.0,361.0 L608.0,402.0 L541.0,364.0 Z" fill="url(#mesh)" stroke="#151515" stroke-width="1.3" />
<path d="M575.0,342.0 L578.5,344.0 L578.5,385.0 L575.0,383.0 Z" fill="#fff" stroke="none" stroke-width="0" />
<path d="M541.0,390.0 L608.0,428.5 L608.0,476.0 L541.0,438.0 Z" fill="url(#mesh)" stroke="#151515" stroke-width="1.3" />
<path d="M575.0,409.5 L578.5,411.5 L578.5,459.0 L575.0,457.0 Z" fill="#fff" stroke="none" stroke-width="0" />
<path d="M541.0,461.0 L608.0,499.5 L608.0,547.0 L541.0,509.0 Z" fill="url(#mesh)" stroke="#151515" stroke-width="1.3" />
<path d="M575.0,480.5 L578.5,482.5 L578.5,530.0 L575.0,528.0 Z" fill="#fff" stroke="none" stroke-width="0" />
<path d="M541.0,534.0 L608.0,572.5 L608.0,626.0 L541.0,588.0 Z" fill="url(#mesh)" stroke="#151515" stroke-width="1.3" />
<path d="M575.0,553.5 L578.5,555.5 L578.5,609.0 L575.0,607.0 Z" fill="#fff" stroke="none" stroke-width="0" />
<path d="M539.5,374.0 L608.0,412.0 L606.0,420.3 L532.0,380.0 Z" fill="#fff" stroke="#151515" stroke-width="1.2" />
<path d="M532.0,380.0 L606.0,420.3 L606.0,423.5 L532.3,383.0 Z" fill="#fff" stroke="#151515" stroke-width="1.2" />
<path d="M539.5,448.0 L608.0,486.0 L606.0,494.3 L532.0,454.0 Z" fill="#fff" stroke="#151515" stroke-width="1.2" />
<path d="M532.0,454.0 L606.0,494.3 L606.0,497.5 L532.3,457.0 Z" fill="#fff" stroke="#151515" stroke-width="1.2" />
<path d="M539.5,522.0 L608.0,560.0 L606.0,568.3 L532.0,528.0 Z" fill="#fff" stroke="#151515" stroke-width="1.2" />
<path d="M532.0,528.0 L606.0,568.3 L606.0,571.5 L532.3,531.0 Z" fill="#fff" stroke="#151515" stroke-width="1.2" />
<path d="M539.5,598.0 L608.0,636.0 L606.0,644.0 L532.0,604.0 Z" fill="#fff" stroke="#151515" stroke-width="1.2" />
<path d="M530.3,652.0 L530.3,667.3 L533.1,669.0 L539.0,666.8 L539.0,657.5 Z" fill="#fff" stroke="#151515" stroke-width="1.0" />
<line x1="533.1" y1="654.2" x2="533.1" y2="669.0" stroke="#151515" stroke-width="1.0"/>
<line x1="535.9" y1="656.4" x2="535.9" y2="667.7" stroke="#151515" stroke-width="0.9"/>
<ellipse cx="536.4" cy="664.0" rx="1.0" ry="1.8" transform="rotate(0 536.4 664.0)" fill="#fff" stroke="#151515" stroke-width="0.8"/>
<path d="M527.6,607.3 L610.5,655.3 L610.5,699.0 L527.6,651.0 Z" fill="#fff" stroke="#151515" stroke-width="1.2" />
<line x1="613.8" y1="657.0" x2="619.9" y2="655.3" stroke="#151515" stroke-width="0.7"/>
<line x1="613.8" y1="661.8" x2="619.9" y2="660.1" stroke="#151515" stroke-width="0.7"/>
<line x1="613.8" y1="666.6" x2="619.9" y2="664.9" stroke="#151515" stroke-width="0.7"/>
<line x1="613.8" y1="671.4" x2="619.9" y2="669.7" stroke="#151515" stroke-width="0.7"/>
<line x1="613.8" y1="676.2" x2="619.9" y2="674.5" stroke="#151515" stroke-width="0.7"/>
<line x1="613.8" y1="681.0" x2="619.9" y2="679.3" stroke="#151515" stroke-width="0.7"/>
<line x1="613.8" y1="685.8" x2="619.9" y2="684.1" stroke="#151515" stroke-width="0.7"/>
<line x1="613.8" y1="690.6" x2="619.9" y2="688.9" stroke="#151515" stroke-width="0.7"/>
<line x1="613.8" y1="695.4" x2="619.9" y2="693.7" stroke="#151515" stroke-width="0.7"/>
<line x1="613.8" y1="700.2" x2="619.9" y2="698.5" stroke="#151515" stroke-width="0.7"/>
<line x1="613.8" y1="705.0" x2="619.9" y2="703.3" stroke="#151515" stroke-width="0.7"/>
<line x1="613.8" y1="709.8" x2="619.9" y2="708.1" stroke="#151515" stroke-width="0.7"/>
<path d="M607.3,701.1 L610.5,702.6 L610.5,713.5 L607.3,712.0 Z" fill="#fff" stroke="#151515" stroke-width="0.9" />
<path d="M640.7,398.0 Q641.3,416.0 643.9,426.5 Q646.5,437.0 652.0,446.2 Q657.5,455.5 662.2,461.5 Q667.0,467.5 671.0,469.0 L675.0,470.5" fill="none" stroke="#151515" stroke-width="5.2" />
<path d="M640.7,398.0 Q641.3,416.0 643.9,426.5 Q646.5,437.0 652.0,446.2 Q657.5,455.5 662.2,461.5 Q667.0,467.5 671.0,469.0 L675.0,470.5" fill="none" stroke="#fff" stroke-width="2.9" />
<line x1="676.5" y1="469.5" x2="658.5" y2="479" stroke="#151515" stroke-width="5.6" stroke-linecap="round"/>
<line x1="676.5" y1="469.5" x2="658.5" y2="479" stroke="#fff" stroke-width="3.4" stroke-linecap="round"/>
<path d="M640.7,472.0 Q641.3,490.0 643.9,500.5 Q646.5,511.0 652.0,520.2 Q657.5,529.5 662.2,535.5 Q667.0,541.5 671.0,543.0 L675.0,544.5" fill="none" stroke="#151515" stroke-width="5.2" />
<path d="M640.7,472.0 Q641.3,490.0 643.9,500.5 Q646.5,511.0 652.0,520.2 Q657.5,529.5 662.2,535.5 Q667.0,541.5 671.0,543.0 L675.0,544.5" fill="none" stroke="#fff" stroke-width="2.9" />
<line x1="676.5" y1="543.5" x2="658.5" y2="553" stroke="#151515" stroke-width="5.6" stroke-linecap="round"/>
<line x1="676.5" y1="543.5" x2="658.5" y2="553" stroke="#fff" stroke-width="3.4" stroke-linecap="round"/>
<path d="M640.7,544.0 Q641.3,562.0 643.9,572.5 Q646.5,583.0 652.0,592.2 Q657.5,601.5 662.2,607.5 Q667.0,613.5 671.0,615.0 L675.0,616.5" fill="none" stroke="#151515" stroke-width="5.2" />
<path d="M640.7,544.0 Q641.3,562.0 643.9,572.5 Q646.5,583.0 652.0,592.2 Q657.5,601.5 662.2,607.5 Q667.0,613.5 671.0,615.0 L675.0,616.5" fill="none" stroke="#fff" stroke-width="2.9" />
<line x1="676.5" y1="615.5" x2="658.5" y2="625" stroke="#151515" stroke-width="5.6" stroke-linecap="round"/>
<line x1="676.5" y1="615.5" x2="658.5" y2="625" stroke="#fff" stroke-width="3.4" stroke-linecap="round"/>
<path d="M640.7,618.0 Q641.3,636.0 643.9,646.5 Q646.5,657.0 652.0,666.2 Q657.5,675.5 662.2,681.5 Q667.0,687.5 671.0,689.0 L675.0,690.5" fill="none" stroke="#151515" stroke-width="5.2" />
<path d="M640.7,618.0 Q641.3,636.0 643.9,646.5 Q646.5,657.0 652.0,666.2 Q657.5,675.5 662.2,681.5 Q667.0,687.5 671.0,689.0 L675.0,690.5" fill="none" stroke="#fff" stroke-width="2.9" />
<line x1="676.5" y1="689.5" x2="658.5" y2="699" stroke="#151515" stroke-width="5.6" stroke-linecap="round"/>
<line x1="676.5" y1="689.5" x2="658.5" y2="699" stroke="#fff" stroke-width="3.4" stroke-linecap="round"/>
<line x1="631.7" y1="353.1" x2="632.8" y2="365.6" stroke="#151515" stroke-width="1.1"/>
<line x1="633.6" y1="352.9" x2="634.5" y2="365.3" stroke="#151515" stroke-width="1.1"/>
<path d="M618.1,380.6 L637.7,392.6 L637.2,394.1 L617.5,382.3 Z" fill="#fff" stroke="#151515" stroke-width="1.2" />
<path d="M621.4,396.7 Q625.2,391.3 629.5,380.9" fill="none" stroke="#151515" stroke-width="1.2" />
<path d="M622.5,373.3 C619.4,368.6 621.4,362.1 626.3,361.8 L638.8,367.5 L636.6,382.3 Z" fill="#fff" stroke="#151515" stroke-width="1.7" />
<path d="M630.3,363.3 Q628.5,367.3 629.9,377.6" fill="none" stroke="#151515" stroke-width="1.2" />
<path d="M628.5,365.6 L633.6,363.1 L636.1,364.2 L631.2,368.6 Z" fill="#fff" stroke="#151515" stroke-width="1.2" />
<line x1="631.2" y1="368.6" x2="631.2" y2="372.7" stroke="#151515" stroke-width="1.2"/>
<path d="M635.9,382.3 L635.9,373.3 C635.9,367.3 640.5,366.2 643.2,368.9 C645.6,371.1 645.6,374.9 645.6,377.6 L645.6,392.1 L637.7,392.1 Z" fill="#fff" stroke="#151515" stroke-width="1.9" />
<path d="M638.3,388.5 L638.3,377.6 C638.3,373.3 642.9,373.3 642.9,377.6 L642.9,388.5" fill="none" stroke="#151515" stroke-width="1.6" />
<line x1="638.3" y1="383.6" x2="642.9" y2="383.6" stroke="#151515" stroke-width="1.1"/>
<line x1="637.7" y1="388.5" x2="645.6" y2="388.5" stroke="#151515" stroke-width="1.2"/>
<path d="M636.9,392.1 L645.6,392.1 L645.1,396.7 L637.7,396.7 Z" fill="#444" stroke="#151515" stroke-width="1.6" />
<circle cx="635.5" cy="364.9" r="1.3" fill="#222" stroke="#151515" stroke-width="0.6"/>
<circle cx="642.1" cy="394.0" r="1.3" fill="#222" stroke="#151515" stroke-width="0.6"/>
<line x1="631.7" y1="427.1" x2="632.8" y2="439.6" stroke="#151515" stroke-width="1.1"/>
<line x1="633.6" y1="426.9" x2="634.5" y2="439.3" stroke="#151515" stroke-width="1.1"/>
<path d="M618.1,454.6 L637.7,466.6 L637.2,468.1 L617.5,456.3 Z" fill="#fff" stroke="#151515" stroke-width="1.2" />
<path d="M621.4,470.7 Q625.2,465.3 629.5,454.9" fill="none" stroke="#151515" stroke-width="1.2" />
<path d="M622.5,447.3 C619.4,442.6 621.4,436.1 626.3,435.8 L638.8,441.5 L636.6,456.3 Z" fill="#fff" stroke="#151515" stroke-width="1.7" />
<path d="M630.3,437.3 Q628.5,441.3 629.9,451.6" fill="none" stroke="#151515" stroke-width="1.2" />
<path d="M628.5,439.6 L633.6,437.1 L636.1,438.2 L631.2,442.6 Z" fill="#fff" stroke="#151515" stroke-width="1.2" />
<line x1="631.2" y1="442.6" x2="631.2" y2="446.7" stroke="#151515" stroke-width="1.2"/>
<path d="M635.9,456.3 L635.9,447.3 C635.9,441.3 640.5,440.2 643.2,442.9 C645.6,445.1 645.6,448.9 645.6,451.6 L645.6,466.1 L637.7,466.1 Z" fill="#fff" stroke="#151515" stroke-width="1.9" />
<path d="M638.3,462.5 L638.3,451.6 C638.3,447.3 642.9,447.3 642.9,451.6 L642.9,462.5" fill="none" stroke="#151515" stroke-width="1.6" />
<line x1="638.3" y1="457.6" x2="642.9" y2="457.6" stroke="#151515" stroke-width="1.1"/>
<line x1="637.7" y1="462.5" x2="645.6" y2="462.5" stroke="#151515" stroke-width="1.2"/>
<path d="M636.9,466.1 L645.6,466.1 L645.1,470.7 L637.7,470.7 Z" fill="#444" stroke="#151515" stroke-width="1.6" />
<circle cx="635.5" cy="438.9" r="1.3" fill="#222" stroke="#151515" stroke-width="0.6"/>
<circle cx="642.1" cy="468.0" r="1.3" fill="#222" stroke="#151515" stroke-width="0.6"/>
<line x1="631.7" y1="499.1" x2="632.8" y2="511.6" stroke="#151515" stroke-width="1.1"/>
<line x1="633.6" y1="498.9" x2="634.5" y2="511.3" stroke="#151515" stroke-width="1.1"/>
<path d="M618.1,526.6 L637.7,538.6 L637.2,540.1 L617.5,528.3 Z" fill="#fff" stroke="#151515" stroke-width="1.2" />
<path d="M621.4,542.7 Q625.2,537.3 629.5,526.9" fill="none" stroke="#151515" stroke-width="1.2" />
<path d="M622.5,519.3 C619.4,514.6 621.4,508.1 626.3,507.8 L638.8,513.5 L636.6,528.3 Z" fill="#fff" stroke="#151515" stroke-width="1.7" />
<path d="M630.3,509.3 Q628.5,513.3 629.9,523.6" fill="none" stroke="#151515" stroke-width="1.2" />
<path d="M628.5,511.6 L633.6,509.1 L636.1,510.2 L631.2,514.6 Z" fill="#fff" stroke="#151515" stroke-width="1.2" />
<line x1="631.2" y1="514.6" x2="631.2" y2="518.7" stroke="#151515" stroke-width="1.2"/>
<path d="M635.9,528.3 L635.9,519.3 C635.9,513.3 640.5,512.2 643.2,514.9 C645.6,517.1 645.6,520.9 645.6,523.6 L645.6,538.1 L637.7,538.1 Z" fill="#fff" stroke="#151515" stroke-width="1.9" />
<path d="M638.3,534.5 L638.3,523.6 C638.3,519.3 642.9,519.3 642.9,523.6 L642.9,534.5" fill="none" stroke="#151515" stroke-width="1.6" />
<line x1="638.3" y1="529.6" x2="642.9" y2="529.6" stroke="#151515" stroke-width="1.1"/>
<line x1="637.7" y1="534.5" x2="645.6" y2="534.5" stroke="#151515" stroke-width="1.2"/>
<path d="M636.9,538.1 L645.6,538.1 L645.1,542.7 L637.7,542.7 Z" fill="#444" stroke="#151515" stroke-width="1.6" />
<circle cx="635.5" cy="510.9" r="1.3" fill="#222" stroke="#151515" stroke-width="0.6"/>
<circle cx="642.1" cy="540.0" r="1.3" fill="#222" stroke="#151515" stroke-width="0.6"/>
<line x1="631.7" y1="573.1" x2="632.8" y2="585.6" stroke="#151515" stroke-width="1.1"/>
<line x1="633.6" y1="572.9" x2="634.5" y2="585.3" stroke="#151515" stroke-width="1.1"/>
<path d="M618.1,600.6 L637.7,612.6 L637.2,614.1 L617.5,602.3 Z" fill="#fff" stroke="#151515" stroke-width="1.2" />
<path d="M621.4,616.7 Q625.2,611.3 629.5,600.9" fill="none" stroke="#151515" stroke-width="1.2" />
<path d="M622.5,593.3 C619.4,588.6 621.4,582.1 626.3,581.8 L638.8,587.5 L636.6,602.3 Z" fill="#fff" stroke="#151515" stroke-width="1.7" />
<path d="M630.3,583.3 Q628.5,587.3 629.9,597.6" fill="none" stroke="#151515" stroke-width="1.2" />
<path d="M628.5,585.6 L633.6,583.1 L636.1,584.2 L631.2,588.6 Z" fill="#fff" stroke="#151515" stroke-width="1.2" />
<line x1="631.2" y1="588.6" x2="631.2" y2="592.7" stroke="#151515" stroke-width="1.2"/>
<path d="M635.9,602.3 L635.9,593.3 C635.9,587.3 640.5,586.2 643.2,588.9 C645.6,591.1 645.6,594.9 645.6,597.6 L645.6,612.1 L637.7,612.1 Z" fill="#fff" stroke="#151515" stroke-width="1.9" />
<path d="M638.3,608.5 L638.3,597.6 C638.3,593.3 642.9,593.3 642.9,597.6 L642.9,608.5" fill="none" stroke="#151515" stroke-width="1.6" />
<line x1="638.3" y1="603.6" x2="642.9" y2="603.6" stroke="#151515" stroke-width="1.1"/>
<line x1="637.7" y1="608.5" x2="645.6" y2="608.5" stroke="#151515" stroke-width="1.2"/>
<path d="M636.9,612.1 L645.6,612.1 L645.1,616.7 L637.7,616.7 Z" fill="#444" stroke="#151515" stroke-width="1.6" />
<circle cx="635.5" cy="584.9" r="1.3" fill="#222" stroke="#151515" stroke-width="0.6"/>
<circle cx="642.1" cy="614.0" r="1.3" fill="#222" stroke="#151515" stroke-width="0.6"/>
<path d="M703.7,377.6 L703.7,686.0 L716.3,686.0 L716.3,377.6" fill="#fff" stroke="#151515" stroke-width="1.2" />
<path d="M703.7,686 Q703.7,691.5 710,691.5 Q716.3,691.5 716.3,686" fill="#fff" stroke="#151515" stroke-width="1.2" />
<ellipse cx="710.0" cy="377.6" rx="6.3" ry="3.4" transform="rotate(0 710.0 377.6)" fill="#fff" stroke="#151515" stroke-width="1.2"/>
<line x1="641.0" y1="519.0" x2="716.0" y2="557.0" stroke="#151515" stroke-width="1.0"/>
<line x1="641.0" y1="523.5" x2="704.0" y2="557.0" stroke="#151515" stroke-width="1.0"/>
<line x1="644.0" y1="530.0" x2="690.0" y2="553.0" stroke="#151515" stroke-width="1.0"/>
<line x1="640.0" y1="561.0" x2="704.0" y2="598.0" stroke="#151515" stroke-width="1.0"/>
<line x1="646.5" y1="570.0" x2="703.5" y2="604.5" stroke="#151515" stroke-width="1.0"/>
<line x1="656.0" y1="586.0" x2="703.5" y2="613.5" stroke="#151515" stroke-width="1.0"/>
<path d="M706.5,400.2 L715.7,405.0 L715.0,408.1 L705.6,403.3 Z" fill="#fff" stroke="#151515" stroke-width="1.5" />
<path d="M713.0,403.9 L716.5,405.7 L715.6,408.7 L712.3,406.9 Z" fill="#222" stroke="#151515" stroke-width="1.2" />
<path d="M701.0,386.9 L708.1,389.3 L714.1,394.3 L713.2,398.9 L706.5,396.7 L699.9,392.4 Z" fill="#fff" stroke="#151515" stroke-width="1.6" />
<circle cx="712.5" cy="396.2" r="2.1" fill="#fff" stroke="#151515" stroke-width="1.5"/>
<path d="M687.0,402.8 L696.4,405.2 L696.0,410.3 L687.7,410.0 Z" fill="#fff" stroke="#151515" stroke-width="1.6" />
<ellipse cx="686.6" cy="406.3" rx="3.0" ry="3.6" transform="rotate(0 686.6 406.3)" fill="#fff" stroke="#151515" stroke-width="1.9"/>
<ellipse cx="686.6" cy="406.3" rx="1.4" ry="1.8" transform="rotate(0 686.6 406.3)" fill="#fff" stroke="#151515" stroke-width="1.2"/>
<path d="M689.0,396.7 L696.1,399.5 L696.1,405.5 L689.0,403.8 Z" fill="#fff" stroke="#151515" stroke-width="1.4" />
<path d="M674.6,381.2 L686.3,386.4 L683.8,392.1 L672.6,386.3 Z" fill="#fff" stroke="#151515" stroke-width="1.7" />
<path d="M671.5,382.8 L674.2,381.2 L675.6,384.1 L673.0,385.8 Z" fill="#1a1a1a" stroke="#151515" stroke-width="1.2" />
<line x1="677.9" y1="382.8" x2="676.1" y2="387.8" stroke="#151515" stroke-width="1.5"/>
<line x1="681.4" y1="384.4" x2="679.8" y2="389.5" stroke="#151515" stroke-width="1.5"/>
<line x1="679.6" y1="383.5" x2="678.0" y2="388.7" stroke="#151515" stroke-width="1.1"/>
<path d="M686.3,385.8 L699.5,392.1 L696.6,400.0 L683.1,392.6 Z" fill="#fff" stroke="#151515" stroke-width="1.8" />
<path d="M697.7,388.7 L702.3,386.7 L709.9,391.3 L710.4,399.8 L703.7,404.1 L697.7,400.2 Z" fill="#fff" stroke="#151515" stroke-width="1.8" />
<ellipse cx="700.8" cy="399.8" rx="2.3" ry="6.6" transform="rotate(-18 700.8 399.8)" fill="#222" stroke="#151515" stroke-width="1.2"/>
<ellipse cx="703.8" cy="400.7" rx="1.8" ry="5.2" transform="rotate(-18 703.8 400.7)" fill="#fff" stroke="#151515" stroke-width="1.4"/>
<path d="M704.5,396.9 L709.9,399.8 L709.3,404.6 L704.5,405.5 Z" fill="#fff" stroke="#151515" stroke-width="1.4" />
<line x1="704.8" y1="408.5" x2="706.0" y2="412.0" stroke="#151515" stroke-width="2.6"/>
<line x1="699.5" y1="405.5" x2="700.6" y2="408.7" stroke="#151515" stroke-width="2.4"/>
<circle cx="710.3" cy="396.5" r="1.5" fill="#222" stroke="#151515" stroke-width="0.8"/>
<path d="M706.5,473.2 L715.7,478.0 L715.0,481.1 L705.6,476.3 Z" fill="#fff" stroke="#151515" stroke-width="1.5" />
<path d="M713.0,476.9 L716.5,478.7 L715.6,481.7 L712.3,479.9 Z" fill="#222" stroke="#151515" stroke-width="1.2" />
<path d="M701.0,459.9 L708.1,462.3 L714.1,467.3 L713.2,471.9 L706.5,469.7 L699.9,465.4 Z" fill="#fff" stroke="#151515" stroke-width="1.6" />
<circle cx="712.5" cy="469.2" r="2.1" fill="#fff" stroke="#151515" stroke-width="1.5"/>
<path d="M687.0,475.8 L696.4,478.2 L696.0,483.3 L687.7,483.0 Z" fill="#fff" stroke="#151515" stroke-width="1.6" />
<ellipse cx="686.6" cy="479.3" rx="3.0" ry="3.6" transform="rotate(0 686.6 479.3)" fill="#fff" stroke="#151515" stroke-width="1.9"/>
<ellipse cx="686.6" cy="479.3" rx="1.4" ry="1.8" transform="rotate(0 686.6 479.3)" fill="#fff" stroke="#151515" stroke-width="1.2"/>
<path d="M689.0,469.7 L696.1,472.5 L696.1,478.5 L689.0,476.8 Z" fill="#fff" stroke="#151515" stroke-width="1.4" />
<path d="M674.6,454.2 L686.3,459.4 L683.8,465.1 L672.6,459.3 Z" fill="#fff" stroke="#151515" stroke-width="1.7" />
<path d="M671.5,455.8 L674.2,454.2 L675.6,457.1 L673.0,458.8 Z" fill="#1a1a1a" stroke="#151515" stroke-width="1.2" />
<line x1="677.9" y1="455.8" x2="676.1" y2="460.8" stroke="#151515" stroke-width="1.5"/>
<line x1="681.4" y1="457.4" x2="679.8" y2="462.5" stroke="#151515" stroke-width="1.5"/>
<line x1="679.6" y1="456.5" x2="678.0" y2="461.7" stroke="#151515" stroke-width="1.1"/>
<path d="M686.3,458.8 L699.5,465.1 L696.6,473.0 L683.1,465.6 Z" fill="#fff" stroke="#151515" stroke-width="1.8" />
<path d="M697.7,461.7 L702.3,459.7 L709.9,464.3 L710.4,472.8 L703.7,477.1 L697.7,473.2 Z" fill="#fff" stroke="#151515" stroke-width="1.8" />
<ellipse cx="700.8" cy="472.8" rx="2.3" ry="6.6" transform="rotate(-18 700.8 472.8)" fill="#222" stroke="#151515" stroke-width="1.2"/>
<ellipse cx="703.8" cy="473.7" rx="1.8" ry="5.2" transform="rotate(-18 703.8 473.7)" fill="#fff" stroke="#151515" stroke-width="1.4"/>
<path d="M704.5,469.9 L709.9,472.8 L709.3,477.6 L704.5,478.5 Z" fill="#fff" stroke="#151515" stroke-width="1.4" />
<line x1="704.8" y1="481.5" x2="706.0" y2="485.0" stroke="#151515" stroke-width="2.6"/>
<line x1="699.5" y1="478.5" x2="700.6" y2="481.7" stroke="#151515" stroke-width="2.4"/>
<circle cx="710.3" cy="469.5" r="1.5" fill="#222" stroke="#151515" stroke-width="0.8"/>
<path d="M706.5,546.2 L715.7,551.0 L715.0,554.1 L705.6,549.3 Z" fill="#fff" stroke="#151515" stroke-width="1.5" />
<path d="M713.0,549.9 L716.5,551.7 L715.6,554.7 L712.3,552.9 Z" fill="#222" stroke="#151515" stroke-width="1.2" />
<path d="M701.0,532.9 L708.1,535.3 L714.1,540.3 L713.2,544.9 L706.5,542.7 L699.9,538.4 Z" fill="#fff" stroke="#151515" stroke-width="1.6" />
<circle cx="712.5" cy="542.2" r="2.1" fill="#fff" stroke="#151515" stroke-width="1.5"/>
<path d="M687.0,548.8 L696.4,551.2 L696.0,556.3 L687.7,556.0 Z" fill="#fff" stroke="#151515" stroke-width="1.6" />
<ellipse cx="686.6" cy="552.3" rx="3.0" ry="3.6" transform="rotate(0 686.6 552.3)" fill="#fff" stroke="#151515" stroke-width="1.9"/>
<ellipse cx="686.6" cy="552.3" rx="1.4" ry="1.8" transform="rotate(0 686.6 552.3)" fill="#fff" stroke="#151515" stroke-width="1.2"/>
<path d="M689.0,542.7 L696.1,545.5 L696.1,551.5 L689.0,549.8 Z" fill="#fff" stroke="#151515" stroke-width="1.4" />
<path d="M674.6,527.2 L686.3,532.4 L683.8,538.1 L672.6,532.3 Z" fill="#fff" stroke="#151515" stroke-width="1.7" />
<path d="M671.5,528.8 L674.2,527.2 L675.6,530.1 L673.0,531.8 Z" fill="#1a1a1a" stroke="#151515" stroke-width="1.2" />
<line x1="677.9" y1="528.8" x2="676.1" y2="533.8" stroke="#151515" stroke-width="1.5"/>
<line x1="681.4" y1="530.4" x2="679.8" y2="535.5" stroke="#151515" stroke-width="1.5"/>
<line x1="679.6" y1="529.5" x2="678.0" y2="534.7" stroke="#151515" stroke-width="1.1"/>
<path d="M686.3,531.8 L699.5,538.1 L696.6,546.0 L683.1,538.6 Z" fill="#fff" stroke="#151515" stroke-width="1.8" />
<path d="M697.7,534.7 L702.3,532.7 L709.9,537.3 L710.4,545.8 L703.7,550.1 L697.7,546.2 Z" fill="#fff" stroke="#151515" stroke-width="1.8" />
<ellipse cx="700.8" cy="545.8" rx="2.3" ry="6.6" transform="rotate(-18 700.8 545.8)" fill="#222" stroke="#151515" stroke-width="1.2"/>
<ellipse cx="703.8" cy="546.7" rx="1.8" ry="5.2" transform="rotate(-18 703.8 546.7)" fill="#fff" stroke="#151515" stroke-width="1.4"/>
<path d="M704.5,542.9 L709.9,545.8 L709.3,550.6 L704.5,551.5 Z" fill="#fff" stroke="#151515" stroke-width="1.4" />
<line x1="704.8" y1="554.5" x2="706.0" y2="558.0" stroke="#151515" stroke-width="2.6"/>
<line x1="699.5" y1="551.5" x2="700.6" y2="554.7" stroke="#151515" stroke-width="2.4"/>
<circle cx="710.3" cy="542.5" r="1.5" fill="#222" stroke="#151515" stroke-width="0.8"/>
<path d="M706.5,619.2 L715.7,624.0 L715.0,627.1 L705.6,622.3 Z" fill="#fff" stroke="#151515" stroke-width="1.5" />
<path d="M713.0,622.9 L716.5,624.7 L715.6,627.7 L712.3,625.9 Z" fill="#222" stroke="#151515" stroke-width="1.2" />
<path d="M701.0,605.9 L708.1,608.3 L714.1,613.3 L713.2,617.9 L706.5,615.7 L699.9,611.4 Z" fill="#fff" stroke="#151515" stroke-width="1.6" />
<circle cx="712.5" cy="615.2" r="2.1" fill="#fff" stroke="#151515" stroke-width="1.5"/>
<path d="M687.0,621.8 L696.4,624.2 L696.0,629.3 L687.7,629.0 Z" fill="#fff" stroke="#151515" stroke-width="1.6" />
<ellipse cx="686.6" cy="625.3" rx="3.0" ry="3.6" transform="rotate(0 686.6 625.3)" fill="#fff" stroke="#151515" stroke-width="1.9"/>
<ellipse cx="686.6" cy="625.3" rx="1.4" ry="1.8" transform="rotate(0 686.6 625.3)" fill="#fff" stroke="#151515" stroke-width="1.2"/>
<path d="M689.0,615.7 L696.1,618.5 L696.1,624.5 L689.0,622.8 Z" fill="#fff" stroke="#151515" stroke-width="1.4" />
<path d="M674.6,600.2 L686.3,605.4 L683.8,611.1 L672.6,605.3 Z" fill="#fff" stroke="#151515" stroke-width="1.7" />
<path d="M671.5,601.8 L674.2,600.2 L675.6,603.1 L673.0,604.8 Z" fill="#1a1a1a" stroke="#151515" stroke-width="1.2" />
<line x1="677.9" y1="601.8" x2="676.1" y2="606.8" stroke="#151515" stroke-width="1.5"/>
<line x1="681.4" y1="603.4" x2="679.8" y2="608.5" stroke="#151515" stroke-width="1.5"/>
<line x1="679.6" y1="602.5" x2="678.0" y2="607.7" stroke="#151515" stroke-width="1.1"/>
<path d="M686.3,604.8 L699.5,611.1 L696.6,619.0 L683.1,611.6 Z" fill="#fff" stroke="#151515" stroke-width="1.8" />
<path d="M697.7,607.7 L702.3,605.7 L709.9,610.3 L710.4,618.8 L703.7,623.1 L697.7,619.2 Z" fill="#fff" stroke="#151515" stroke-width="1.8" />
<ellipse cx="700.8" cy="618.8" rx="2.3" ry="6.6" transform="rotate(-18 700.8 618.8)" fill="#222" stroke="#151515" stroke-width="1.2"/>
<ellipse cx="703.8" cy="619.7" rx="1.8" ry="5.2" transform="rotate(-18 703.8 619.7)" fill="#fff" stroke="#151515" stroke-width="1.4"/>
<path d="M704.5,615.9 L709.9,618.8 L709.3,623.6 L704.5,624.5 Z" fill="#fff" stroke="#151515" stroke-width="1.4" />
<line x1="704.8" y1="627.5" x2="706.0" y2="631.0" stroke="#151515" stroke-width="2.6"/>
<line x1="699.5" y1="624.5" x2="700.6" y2="627.7" stroke="#151515" stroke-width="2.4"/>
<circle cx="710.3" cy="615.5" r="1.5" fill="#222" stroke="#151515" stroke-width="0.8"/>
<line x1="716.4" y1="454.0" x2="741.6" y2="469.4" stroke="#151515" stroke-width="1.0"/>
<line x1="716.4" y1="458.7" x2="741.6" y2="474.1" stroke="#151515" stroke-width="1.0"/>
<line x1="716.4" y1="463.4" x2="741.6" y2="478.8" stroke="#151515" stroke-width="1.0"/>
<line x1="716.4" y1="468.1" x2="741.6" y2="483.5" stroke="#151515" stroke-width="1.0"/>
<line x1="716.4" y1="472.8" x2="741.6" y2="488.2" stroke="#151515" stroke-width="1.0"/>
<line x1="716.4" y1="477.5" x2="741.6" y2="492.9" stroke="#151515" stroke-width="1.0"/>
<line x1="716.4" y1="482.2" x2="741.6" y2="497.6" stroke="#151515" stroke-width="1.0"/>
<line x1="716.4" y1="486.9" x2="741.6" y2="502.3" stroke="#151515" stroke-width="1.0"/>
<line x1="716.4" y1="491.6" x2="741.6" y2="507.0" stroke="#151515" stroke-width="1.0"/>
<line x1="716.4" y1="496.3" x2="741.6" y2="511.7" stroke="#151515" stroke-width="1.0"/>
<line x1="716.4" y1="501.0" x2="741.6" y2="516.4" stroke="#151515" stroke-width="1.0"/>
<line x1="716.4" y1="505.7" x2="741.6" y2="521.1" stroke="#151515" stroke-width="1.0"/>
<line x1="716.4" y1="510.4" x2="741.6" y2="525.8" stroke="#151515" stroke-width="1.0"/>
<line x1="716.4" y1="515.1" x2="741.6" y2="530.5" stroke="#151515" stroke-width="1.0"/>
<line x1="716.4" y1="519.8" x2="741.6" y2="535.2" stroke="#151515" stroke-width="1.0"/>
<line x1="716.4" y1="524.5" x2="741.6" y2="539.9" stroke="#151515" stroke-width="1.0"/>
<line x1="716.4" y1="529.2" x2="741.6" y2="544.6" stroke="#151515" stroke-width="1.0"/>
<line x1="716.4" y1="533.9" x2="741.6" y2="549.3" stroke="#151515" stroke-width="1.0"/>
<line x1="716.4" y1="538.6" x2="741.6" y2="554.0" stroke="#151515" stroke-width="1.0"/>
<line x1="716.4" y1="543.3" x2="741.6" y2="558.7" stroke="#151515" stroke-width="1.0"/>
<line x1="716.4" y1="561.0" x2="741.6" y2="580.0" stroke="#151515" stroke-width="1.0"/>
<line x1="716.4" y1="565.5" x2="741.6" y2="584.5" stroke="#151515" stroke-width="1.0"/>
<line x1="716.4" y1="570.0" x2="741.6" y2="589.0" stroke="#151515" stroke-width="1.0"/>
<line x1="716.4" y1="611.0" x2="741.6" y2="630.0" stroke="#151515" stroke-width="1.0"/>
<line x1="716.4" y1="623.0" x2="741.6" y2="642.0" stroke="#151515" stroke-width="1.0"/>
<path d="M741.3,419.3 L750.3,423.0 L750.3,782.4 L741.4,777.7 Z" fill="#fff" stroke="#151515" stroke-width="1.2" />
<path d="M741.3,419.3 L749.5,422.9 L754.0,418.5 L754.0,425.0 L750.3,429.1 Z" fill="#fff" stroke="#151515" stroke-width="1.2" />
<line x1="749.5" y1="422.9" x2="750.3" y2="451.2" stroke="#151515" stroke-width="1.2"/>
<path d="M751.9,425.0 L766.1,423.9 L765.2,446.8 L751.1,447.9 Z" fill="#fff" stroke="#151515" stroke-width="1.2" />
<circle cx="756.3" cy="435.6" r="1.1" fill="#222"/>
<path d="M750.3,451.2 L778.1,466.2 L778.8,827.2 L751.0,811.7 Z" fill="#fff" stroke="#151515" stroke-width="1.2" />
<path d="M778.1,466.2 L875.5,410.3 L875.9,769.4 L778.8,827.2 Z" fill="#fff" stroke="#151515" stroke-width="1.2" />
<path d="M750.3,451.2 L764.2,447.4 L778.9,455.6 L855.8,410.3 L865.6,405.4 L875.5,410.3 L778.1,466.2 Z" fill="#fff" stroke="#151515" stroke-width="1.2" />
<line x1="778.1" y1="455.6" x2="778.1" y2="466.2" stroke="#151515" stroke-width="1.2"/>
<line x1="855.8" y1="410.3" x2="855.8" y2="406.2" stroke="#151515" stroke-width="0.9"/>
<circle cx="766.3" cy="455.8" r="1.1" fill="#222"/>
<circle cx="821.5" cy="436.8" r="1.1" fill="#222"/>
<circle cx="861.5" cy="413.5" r="1.1" fill="#222"/>
<path d="M817.4,491.0 L817.4,908.0 L820.9,910.0 L820.9,491.0" fill="#fff" stroke="#151515" stroke-width="1.2" />
<path d="M817.4,491 Q819.1,487 820.9,491" fill="none" stroke="#151515" stroke-width="1.0" />
<line x1="817.4" y1="908.0" x2="819.0" y2="910.5" stroke="#151515" stroke-width="1.2"/>
<line x1="819.0" y1="910.5" x2="820.9" y2="908.5" stroke="#151515" stroke-width="1.2"/>
<ellipse cx="839.5" cy="480.6" rx="3.4" ry="2.3" transform="rotate(-40 839.5 480.6)" fill="#fff" stroke="#151515" stroke-width="1.1"/>
<ellipse cx="840.3" cy="487.9" rx="2.0" ry="1.5" transform="rotate(-40 840.3 487.9)" fill="#fff" stroke="#151515" stroke-width="1.0"/>
<ellipse cx="839.5" cy="553.9" rx="3.4" ry="2.3" transform="rotate(-40 839.5 553.9)" fill="#fff" stroke="#151515" stroke-width="1.1"/>
<ellipse cx="840.3" cy="561.2" rx="2.0" ry="1.5" transform="rotate(-40 840.3 561.2)" fill="#fff" stroke="#151515" stroke-width="1.0"/>
<ellipse cx="839.5" cy="627.2" rx="3.4" ry="2.3" transform="rotate(-40 839.5 627.2)" fill="#fff" stroke="#151515" stroke-width="1.1"/>
<ellipse cx="840.3" cy="634.5" rx="2.0" ry="1.5" transform="rotate(-40 840.3 634.5)" fill="#fff" stroke="#151515" stroke-width="1.0"/>
<ellipse cx="839.5" cy="700.5" rx="3.4" ry="2.3" transform="rotate(-40 839.5 700.5)" fill="#fff" stroke="#151515" stroke-width="1.1"/>
<ellipse cx="840.3" cy="707.8" rx="2.0" ry="1.5" transform="rotate(-40 840.3 707.8)" fill="#fff" stroke="#151515" stroke-width="1.0"/>
<ellipse cx="852.1" cy="757.0" rx="4.6" ry="7.4" transform="rotate(22 852.1 757.0)" fill="#fff" stroke="#151515" stroke-width="1.1"/>
<line x1="853.5" y1="750.0" x2="851.0" y2="764.0" stroke="#151515" stroke-width="0.9"/>
<path d="M611.0,229.3 Q632.0,230.0 642.5,231.5 Q653.0,233.0 671.0,239.2 Q689.0,245.5 707.2,255.5 Q725.5,265.5 739.1,274.8 Q752.7,284.0 760.9,295.5 Q769.0,307.0 773.2,320.5 Q777.5,334.0 780.2,349.8 Q783.0,365.5 783.8,392.8 Q784.5,420.0 784.0,433.5 L783.5,447.0" fill="none" stroke="#151515" stroke-width="4.6" style="stroke-linecap:butt"/>
<path d="M611.0,229.3 Q632.0,230.0 642.5,231.5 Q653.0,233.0 671.0,239.2 Q689.0,245.5 707.2,255.5 Q725.5,265.5 739.1,274.8 Q752.7,284.0 760.9,295.5 Q769.0,307.0 773.2,320.5 Q777.5,334.0 780.2,349.8 Q783.0,365.5 783.8,392.8 Q784.5,420.0 784.0,433.5 L783.5,447.0" fill="none" stroke="#fff" stroke-width="2.4" style="stroke-linecap:butt"/>
<path d="M684.5,294.0 Q685.5,276.0 687.2,273.2 Q689.0,270.5 691.5,272.2 Q694.0,274.0 697.2,282.0 L700.5,290.0" fill="none" stroke="#151515" stroke-width="3.0" style="stroke-linecap:butt"/>
<path d="M684.5,294.0 Q685.5,276.0 687.2,273.2 Q689.0,270.5 691.5,272.2 Q694.0,274.0 697.2,282.0 L700.5,290.0" fill="none" stroke="#fff" stroke-width="1.0" style="stroke-linecap:butt"/>
<path d="M700.5,290.0 Q702.0,272.0 704.0,269.2 Q706.0,266.5 708.0,268.8 Q710.0,271.0 712.0,276.5 L714.0,282.0" fill="none" stroke="#151515" stroke-width="3.0" style="stroke-linecap:butt"/>
<path d="M700.5,290.0 Q702.0,272.0 704.0,269.2 Q706.0,266.5 708.0,268.8 Q710.0,271.0 712.0,276.5 L714.0,282.0" fill="none" stroke="#fff" stroke-width="1.0" style="stroke-linecap:butt"/>
<rect x="682.5" y="293.1" width="10" height="2.2" rx="1.1" transform="rotate(-29.0 687.5 294.2)" fill="#fff" stroke="#151515" stroke-width="1.3"/>
<path d="M713.6,275.5 L730.5,266.2 L733.0,272.0 Z" fill="#111" stroke="#151515" stroke-width="0.8" />
<path d="M929.8,514.2 C921.1,514.7 912.4,527.3 913.5,534.9 C914.0,540.9 916.7,544.9 919.8,545.1 C923.3,544.2 926.5,544.7 929.8,546.4 L938.5,550.8 L946.2,536.0 L943.1,524.9 L938.1,520.9 C937.7,517.5 935.3,514.5 929.8,514.2 Z" fill="#fff" stroke="#151515" stroke-width="1.5" />
<path d="M928.2,515.3 C920.5,517.5 914.0,527.8 915.1,535.5 C915.6,540.4 917.3,543.4 919.8,544.1" fill="none" stroke="#151515" stroke-width="1.1" />
<ellipse cx="941.8" cy="537.6" rx="4.7" ry="13.2" transform="rotate(9 941.8 537.6)" fill="#fff" stroke="#151515" stroke-width="2.0"/>
<ellipse cx="943.1" cy="537.9" rx="3.5" ry="11.3" transform="rotate(9 943.1 537.9)" fill="#fff" stroke="#151515" stroke-width="1.0"/>
<path d="M929.8,587.2 C921.1,587.7 912.4,600.3 913.5,607.9 C914.0,613.9 916.7,617.9 919.8,618.1 C923.3,617.2 926.5,617.7 929.8,619.4 L938.5,623.8 L946.2,609.0 L943.1,597.9 L938.1,593.9 C937.7,590.5 935.3,587.5 929.8,587.2 Z" fill="#fff" stroke="#151515" stroke-width="1.5" />
<path d="M928.2,588.3 C920.5,590.5 914.0,600.8 915.1,608.5 C915.6,613.4 917.3,616.4 919.8,617.1" fill="none" stroke="#151515" stroke-width="1.1" />
<ellipse cx="941.8" cy="610.6" rx="4.7" ry="13.2" transform="rotate(9 941.8 610.6)" fill="#fff" stroke="#151515" stroke-width="2.0"/>
<ellipse cx="943.1" cy="610.9" rx="3.5" ry="11.3" transform="rotate(9 943.1 610.9)" fill="#fff" stroke="#151515" stroke-width="1.0"/>
<path d="M929.8,660.2 C921.1,660.7 912.4,673.3 913.5,680.9 C914.0,686.9 916.7,690.9 919.8,691.1 C923.3,690.2 926.5,690.7 929.8,692.4 L938.5,696.8 L946.2,682.0 L943.1,670.9 L938.1,666.9 C937.7,663.5 935.3,660.5 929.8,660.2 Z" fill="#fff" stroke="#151515" stroke-width="1.5" />
<path d="M928.2,661.3 C920.5,663.5 914.0,673.8 915.1,681.5 C915.6,686.4 917.3,689.4 919.8,690.1" fill="none" stroke="#151515" stroke-width="1.1" />
<ellipse cx="941.8" cy="683.6" rx="4.7" ry="13.2" transform="rotate(9 941.8 683.6)" fill="#fff" stroke="#151515" stroke-width="2.0"/>
<ellipse cx="943.1" cy="683.9" rx="3.5" ry="11.3" transform="rotate(9 943.1 683.9)" fill="#fff" stroke="#151515" stroke-width="1.0"/>
<path d="M929.8,733.2 C921.1,733.7 912.4,746.3 913.5,753.9 C914.0,759.9 916.7,763.9 919.8,764.1 C923.3,763.2 926.5,763.7 929.8,765.4 L938.5,769.8 L946.2,755.0 L943.1,743.9 L938.1,739.9 C937.7,736.5 935.3,733.5 929.8,733.2 Z" fill="#fff" stroke="#151515" stroke-width="1.5" />
<path d="M928.2,734.3 C920.5,736.5 914.0,746.8 915.1,754.5 C915.6,759.4 917.3,762.4 919.8,763.1" fill="none" stroke="#151515" stroke-width="1.1" />
<ellipse cx="941.8" cy="756.6" rx="4.7" ry="13.2" transform="rotate(9 941.8 756.6)" fill="#fff" stroke="#151515" stroke-width="2.0"/>
<ellipse cx="943.1" cy="756.9" rx="3.5" ry="11.3" transform="rotate(9 943.1 756.9)" fill="#fff" stroke="#151515" stroke-width="1.0"/>
<path d="M876.2,636.9 C879.1,632.5 884.2,632.5 888.5,636.2 C892.9,640.5 895.1,644.9 893.6,647.8 L887.8,656.5 C884.9,660.2 880.5,660.9 879.1,662.4 L876.3,666.0 Z" fill="#fff" stroke="#151515" stroke-width="1.3" />
<path d="M876.9,640.5 C882.0,641.3 886.4,644.9 889.3,650.7" fill="none" stroke="#151515" stroke-width="2.0" />
<line x1="877.3" y1="639.8" x2="882.7" y2="635.1" stroke="#151515" stroke-width="2.2"/>
<path d="M879.1,647.8 C879.1,653.6 877.6,658.0 876.5,665.3" fill="none" stroke="#151515" stroke-width="1.2" />
<ellipse cx="884.2" cy="654.4" rx="2.0" ry="5.2" transform="rotate(35 884.2 654.4)" fill="#fff" stroke="#151515" stroke-width="1.2"/>
<path d="M892.2,641.3 L896.9,636.2 L898.9,637.6 L894.4,642.7 Z" fill="#fff" stroke="#151515" stroke-width="1.2" />
<circle cx="888.0" cy="634.7" r="1.7" fill="#fff" stroke="#151515" stroke-width="1.1"/>
<path d="M879.1,646.7 L887.8,648.2 L893.6,648.5 L902.0,651.6 L899.8,657.6 L893.6,654.4 L887.8,653.6 L884.9,651.5 Z" fill="#0a0a0a" stroke="#151515" stroke-width="0.8" />
<line x1="375.8" y1="28.8" x2="506.9" y2="194.1" stroke="#222" stroke-width="0.9"/>
<circle cx="506.9" cy="194.1" r="1.9" fill="#111"/>
<line x1="409.7" y1="29.9" x2="505.5" y2="190.5" stroke="#222" stroke-width="0.9"/>
<line x1="443.8" y1="30.5" x2="508.2" y2="170.4" stroke="#222" stroke-width="0.9"/>
<circle cx="508.2" cy="170.4" r="1.9" fill="#111"/>
<line x1="478.1" y1="31.0" x2="507.7" y2="111.8" stroke="#222" stroke-width="0.9"/>
<circle cx="507.7" cy="111.8" r="1.9" fill="#111"/>
<line x1="509.8" y1="31.8" x2="524.9" y2="230.9" stroke="#222" stroke-width="0.9"/>
<circle cx="524.9" cy="230.9" r="1.9" fill="#111"/>
<line x1="544.4" y1="31.8" x2="544.6" y2="134.0" stroke="#222" stroke-width="0.9"/>
<line x1="577.9" y1="31.7" x2="552.8" y2="247.6" stroke="#222" stroke-width="0.9"/>
<circle cx="552.8" cy="247.6" r="1.9" fill="#111"/>
<line x1="612.6" y1="31.6" x2="569.1" y2="274.5" stroke="#222" stroke-width="0.9"/>
<circle cx="569.1" cy="274.5" r="1.9" fill="#111"/>
<line x1="645.8" y1="31.0" x2="567.0" y2="257.0" stroke="#222" stroke-width="0.9"/>
<line x1="680.0" y1="30.5" x2="603.6" y2="196.4" stroke="#222" stroke-width="0.9"/>
<circle cx="603.6" cy="196.4" r="1.9" fill="#111"/>
<line x1="713.8" y1="29.8" x2="590.9" y2="230.9" stroke="#222" stroke-width="0.9"/>
<circle cx="590.9" cy="230.9" r="1.9" fill="#111"/>
<line x1="749.6" y1="30.1" x2="604.7" y2="290.3" stroke="#222" stroke-width="0.9"/>
<circle cx="604.7" cy="290.3" r="1.9" fill="#111"/>
<line x1="1028.6" y1="181.2" x2="713.6" y2="275.5" stroke="#222" stroke-width="0.9"/>
<line x1="1028.4" y1="214.0" x2="569.8" y2="328.7" stroke="#222" stroke-width="0.9"/>
<circle cx="569.8" cy="328.7" r="1.9" fill="#111"/>
<line x1="1028.4" y1="249.5" x2="625.5" y2="348.0" stroke="#222" stroke-width="0.9"/>
<circle cx="625.5" cy="348.0" r="1.9" fill="#111"/>
<line x1="1028.0" y1="283.1" x2="630.9" y2="315.3" stroke="#222" stroke-width="0.9"/>
<circle cx="630.9" cy="315.3" r="1.9" fill="#111"/>
<line x1="1028.2" y1="318.8" x2="575.6" y2="390.9" stroke="#222" stroke-width="0.9"/>
<circle cx="575.6" cy="390.9" r="1.9" fill="#111"/>
<line x1="1028.1" y1="354.6" x2="643.0" y2="394.0" stroke="#222" stroke-width="0.9"/>
<circle cx="643.0" cy="394.0" r="1.9" fill="#111"/>
<line x1="1028.3" y1="393.6" x2="693.0" y2="464.2" stroke="#222" stroke-width="0.9"/>
<circle cx="693.0" cy="464.2" r="1.9" fill="#111"/>
<line x1="1028.1" y1="430.0" x2="615.6" y2="490.6" stroke="#222" stroke-width="0.9"/>
<circle cx="615.6" cy="490.6" r="1.9" fill="#111"/>
<line x1="1028.1" y1="470.0" x2="615.3" y2="516.4" stroke="#222" stroke-width="0.9"/>
<circle cx="615.3" cy="516.4" r="1.9" fill="#111"/>
<line x1="1028.0" y1="508.6" x2="636.0" y2="513.0" stroke="#222" stroke-width="0.9"/>
<line x1="1028.0" y1="538.2" x2="932.7" y2="533.1" stroke="#222" stroke-width="0.9"/>
<circle cx="932.7" cy="533.1" r="1.9" fill="#111"/>
<line x1="1028.2" y1="570.9" x2="862.0" y2="542.4" stroke="#222" stroke-width="0.9"/>
<circle cx="862.0" cy="542.4" r="1.9" fill="#111"/>
<line x1="1028.3" y1="598.0" x2="705.6" y2="535.0" stroke="#222" stroke-width="0.9"/>
<circle cx="705.6" cy="535.0" r="1.9" fill="#111"/>
<line x1="1028.4" y1="632.1" x2="716.4" y2="553.5" stroke="#222" stroke-width="0.9"/>
<line x1="1028.4" y1="666.5" x2="789.3" y2="606.7" stroke="#222" stroke-width="0.9"/>
<circle cx="789.3" cy="606.7" r="1.9" fill="#111"/>
<line x1="1028.8" y1="700.9" x2="899.5" y2="653.6" stroke="#222" stroke-width="0.9"/>
<line x1="1028.2" y1="739.5" x2="570.0" y2="653.5" stroke="#222" stroke-width="0.9"/>
<circle cx="570.0" cy="653.5" r="1.9" fill="#111"/>
<line x1="72.7" y1="361.2" x2="295.4" y2="360.0" stroke="#222" stroke-width="0.9"/>
<circle cx="295.4" cy="360.0" r="1.9" fill="#111"/>
<line x1="72.7" y1="433.7" x2="304.6" y2="448.3" stroke="#222" stroke-width="0.9"/>
<circle cx="304.6" cy="448.3" r="1.9" fill="#111"/>
<line x1="72.7" y1="468.9" x2="537.0" y2="491.5" stroke="#222" stroke-width="0.9"/>
<circle cx="537.0" cy="491.5" r="1.9" fill="#111"/>
<line x1="72.6" y1="606.0" x2="377.9" y2="561.1" stroke="#222" stroke-width="0.9"/>
<circle cx="377.9" cy="561.1" r="1.9" fill="#111"/>
<line x1="72.6" y1="679.5" x2="508.0" y2="631.0" stroke="#222" stroke-width="0.9"/>
<circle cx="508.0" cy="631.0" r="1.9" fill="#111"/>
<line x1="72.6" y1="747.6" x2="447.3" y2="709.1" stroke="#222" stroke-width="0.9"/>
<circle cx="447.3" cy="709.1" r="1.9" fill="#111"/>
<line x1="72.7" y1="784.8" x2="441.8" y2="753.5" stroke="#222" stroke-width="0.9"/>
<circle cx="441.8" cy="753.5" r="1.9" fill="#111"/>
<line x1="430.2" y1="1059.2" x2="433.8" y2="786.5" stroke="#222" stroke-width="0.9"/>
<circle cx="433.8" cy="786.5" r="1.9" fill="#111"/>
<line x1="466.2" y1="1059.2" x2="470.9" y2="776.4" stroke="#222" stroke-width="0.9"/>
<circle cx="470.9" cy="776.4" r="1.9" fill="#111"/>
<line x1="538.0" y1="1059.2" x2="546.5" y2="948.4" stroke="#222" stroke-width="0.9"/>
<circle cx="546.5" cy="948.4" r="1.9" fill="#111"/>
<line x1="572.6" y1="1059.2" x2="573.5" y2="934.5" stroke="#222" stroke-width="0.9"/>
<circle cx="573.5" cy="934.5" r="1.9" fill="#111"/>
<line x1="609.1" y1="1059.3" x2="634.5" y2="839.3" stroke="#222" stroke-width="0.9"/>
<circle cx="634.5" cy="839.3" r="1.9" fill="#111"/>
<line x1="642.9" y1="1059.2" x2="641.8" y2="843.6" stroke="#222" stroke-width="0.9"/>
<circle cx="641.8" cy="843.6" r="1.9" fill="#111"/>
<g style="filter:grayscale(1)">
<circle cx="367.2" cy="18.0" r="13.8" fill="#fff" stroke="#3a3a3a" stroke-width="1.2"/>
<text x="367.2" y="22.6" text-anchor="middle" font-size="13.1" fill="#2a2a2a">28</text>
<circle cx="402.6" cy="18.0" r="13.8" fill="#fff" stroke="#3a3a3a" stroke-width="1.2"/>
<text x="402.6" y="22.6" text-anchor="middle" font-size="13.1" fill="#2a2a2a">26</text>
<circle cx="438.0" cy="18.0" r="13.8" fill="#fff" stroke="#3a3a3a" stroke-width="1.2"/>
<text x="438.0" y="22.6" text-anchor="middle" font-size="13.1" fill="#2a2a2a">29</text>
<circle cx="473.4" cy="18.0" r="13.8" fill="#fff" stroke="#3a3a3a" stroke-width="1.2"/>
<text x="473.4" y="22.6" text-anchor="middle" font-size="13.1" fill="#2a2a2a">27</text>
<circle cx="508.8" cy="18.0" r="13.8" fill="#fff" stroke="#3a3a3a" stroke-width="1.2"/>
<text x="508.8" y="22.6" text-anchor="middle" font-size="13.1" fill="#2a2a2a">31</text>
<circle cx="544.4" cy="18.0" r="13.8" fill="#fff" stroke="#3a3a3a" stroke-width="1.2"/>
<text x="544.4" y="22.6" text-anchor="middle" font-size="13.1" fill="#2a2a2a">30</text>
<circle cx="579.5" cy="18.0" r="13.8" fill="#fff" stroke="#3a3a3a" stroke-width="1.2"/>
<text x="579.5" y="22.6" text-anchor="middle" font-size="13.1" fill="#2a2a2a">33</text>
<circle cx="615.0" cy="18.0" r="13.8" fill="#fff" stroke="#3a3a3a" stroke-width="1.2"/>
<text x="615.0" y="22.6" text-anchor="middle" font-size="13.1" fill="#2a2a2a">41</text>
<circle cx="650.3" cy="18.0" r="13.8" fill="#fff" stroke="#3a3a3a" stroke-width="1.2"/>
<text x="650.3" y="22.6" text-anchor="middle" font-size="13.1" fill="#2a2a2a">16</text>
<circle cx="685.8" cy="18.0" r="13.8" fill="#fff" stroke="#3a3a3a" stroke-width="1.2"/>
<text x="685.8" y="22.6" text-anchor="middle" font-size="13.1" fill="#2a2a2a">12</text>
<circle cx="721.0" cy="18.0" r="13.8" fill="#fff" stroke="#3a3a3a" stroke-width="1.2"/>
<text x="721.0" y="22.6" text-anchor="middle" font-size="13.1" fill="#2a2a2a">17</text>
<circle cx="756.3" cy="18.0" r="13.8" fill="#fff" stroke="#3a3a3a" stroke-width="1.2"/>
<text x="756.3" y="22.6" text-anchor="middle" font-size="13.1" fill="#2a2a2a">36</text>
<circle cx="1041.8" cy="177.2" r="13.8" fill="#fff" stroke="#3a3a3a" stroke-width="1.2"/>
<text x="1041.8" y="181.8" text-anchor="middle" font-size="13.1" fill="#2a2a2a">52</text>
<circle cx="1041.8" cy="210.7" r="13.8" fill="#fff" stroke="#3a3a3a" stroke-width="1.2"/>
<text x="1041.8" y="215.3" text-anchor="middle" font-size="13.1" fill="#2a2a2a">7</text>
<circle cx="1041.8" cy="246.2" r="13.8" fill="#fff" stroke="#3a3a3a" stroke-width="1.2"/>
<text x="1041.8" y="250.8" text-anchor="middle" font-size="13.1" fill="#2a2a2a">3</text>
<circle cx="1041.8" cy="282.0" r="13.8" fill="#fff" stroke="#3a3a3a" stroke-width="1.2"/>
<text x="1041.8" y="286.6" text-anchor="middle" font-size="13.1" fill="#2a2a2a">40</text>
<circle cx="1041.8" cy="316.6" r="13.8" fill="#fff" stroke="#3a3a3a" stroke-width="1.2"/>
<text x="1041.8" y="321.2" text-anchor="middle" font-size="13.1" fill="#2a2a2a">9</text>
<circle cx="1041.8" cy="353.2" r="13.8" fill="#fff" stroke="#3a3a3a" stroke-width="1.2"/>
<text x="1041.8" y="357.8" text-anchor="middle" font-size="13.1" fill="#2a2a2a">5</text>
<circle cx="1041.8" cy="390.8" r="13.8" fill="#fff" stroke="#3a3a3a" stroke-width="1.2"/>
<text x="1041.8" y="395.4" text-anchor="middle" font-size="13.1" fill="#2a2a2a">13</text>
<circle cx="1041.8" cy="428.0" r="13.8" fill="#fff" stroke="#3a3a3a" stroke-width="1.2"/>
<text x="1041.8" y="432.6" text-anchor="middle" font-size="13.1" fill="#2a2a2a">15</text>
<circle cx="1041.8" cy="468.5" r="13.8" fill="#fff" stroke="#3a3a3a" stroke-width="1.2"/>
<text x="1041.8" y="473.1" text-anchor="middle" font-size="13.1" fill="#2a2a2a">10</text>
<circle cx="1041.8" cy="508.4" r="13.8" fill="#fff" stroke="#3a3a3a" stroke-width="1.2"/>
<text x="1041.8" y="513.0" text-anchor="middle" font-size="13.1" fill="#2a2a2a">4</text>
<circle cx="1041.8" cy="538.9" r="13.8" fill="#fff" stroke="#3a3a3a" stroke-width="1.2"/>
<text x="1041.8" y="543.5" text-anchor="middle" font-size="13.1" fill="#2a2a2a">45</text>
<circle cx="1041.8" cy="573.2" r="13.8" fill="#fff" stroke="#3a3a3a" stroke-width="1.2"/>
<text x="1041.8" y="577.8" text-anchor="middle" font-size="13.1" fill="#2a2a2a">24</text>
<circle cx="1041.8" cy="600.6" r="13.8" fill="#fff" stroke="#3a3a3a" stroke-width="1.2"/>
<text x="1041.8" y="605.2" text-anchor="middle" font-size="13.1" fill="#2a2a2a">14</text>
<circle cx="1041.8" cy="635.5" r="13.8" fill="#fff" stroke="#3a3a3a" stroke-width="1.2"/>
<text x="1041.8" y="640.1" text-anchor="middle" font-size="13.1" fill="#2a2a2a">39</text>
<circle cx="1041.8" cy="669.8" r="13.8" fill="#fff" stroke="#3a3a3a" stroke-width="1.2"/>
<text x="1041.8" y="674.4" text-anchor="middle" font-size="13.1" fill="#2a2a2a">11</text>
<circle cx="1041.8" cy="705.6" r="13.8" fill="#fff" stroke="#3a3a3a" stroke-width="1.2"/>
<text x="1041.8" y="710.2" text-anchor="middle" font-size="13.1" fill="#2a2a2a">50</text>
<circle cx="1041.8" cy="742.0" r="13.8" fill="#fff" stroke="#3a3a3a" stroke-width="1.2"/>
<text x="1041.8" y="746.6" text-anchor="middle" font-size="13.1" fill="#2a2a2a">8</text>
<circle cx="58.9" cy="361.3" r="13.8" fill="#fff" stroke="#3a3a3a" stroke-width="1.2"/>
<text x="58.9" y="365.9" text-anchor="middle" font-size="13.1" fill="#2a2a2a">47</text>
<circle cx="58.9" cy="432.8" r="13.8" fill="#fff" stroke="#3a3a3a" stroke-width="1.2"/>
<text x="58.9" y="437.4" text-anchor="middle" font-size="13.1" fill="#2a2a2a">32</text>
<circle cx="58.9" cy="468.2" r="13.8" fill="#fff" stroke="#3a3a3a" stroke-width="1.2"/>
<text x="58.9" y="472.8" text-anchor="middle" font-size="13.1" fill="#2a2a2a">23</text>
<circle cx="58.9" cy="608.0" r="13.8" fill="#fff" stroke="#3a3a3a" stroke-width="1.2"/>
<text x="58.9" y="612.6" text-anchor="middle" font-size="13.1" fill="#2a2a2a">42</text>
<circle cx="58.9" cy="681.0" r="13.8" fill="#fff" stroke="#3a3a3a" stroke-width="1.2"/>
<text x="58.9" y="685.6" text-anchor="middle" font-size="13.1" fill="#2a2a2a">44</text>
<circle cx="58.9" cy="749.0" r="13.8" fill="#fff" stroke="#3a3a3a" stroke-width="1.2"/>
<text x="58.9" y="753.6" text-anchor="middle" font-size="13.1" fill="#2a2a2a">43</text>
<circle cx="58.9" cy="786.0" r="13.8" fill="#fff" stroke="#3a3a3a" stroke-width="1.2"/>
<text x="58.9" y="790.6" text-anchor="middle" font-size="13.1" fill="#2a2a2a">38</text>
<circle cx="430.0" cy="1073.0" r="13.8" fill="#fff" stroke="#3a3a3a" stroke-width="1.2"/>
<text x="430.0" y="1077.6" text-anchor="middle" font-size="13.1" fill="#2a2a2a">35</text>
<circle cx="466.0" cy="1073.0" r="13.8" fill="#fff" stroke="#3a3a3a" stroke-width="1.2"/>
<text x="466.0" y="1077.6" text-anchor="middle" font-size="13.1" fill="#2a2a2a">37</text>
<circle cx="537.0" cy="1073.0" r="13.8" fill="#fff" stroke="#3a3a3a" stroke-width="1.2"/>
<text x="537.0" y="1077.6" text-anchor="middle" font-size="13.1" fill="#2a2a2a">49</text>
<circle cx="572.5" cy="1073.0" r="13.8" fill="#fff" stroke="#3a3a3a" stroke-width="1.2"/>
<text x="572.5" y="1077.6" text-anchor="middle" font-size="13.1" fill="#2a2a2a">19</text>
<circle cx="607.5" cy="1073.0" r="13.8" fill="#fff" stroke="#3a3a3a" stroke-width="1.2"/>
<text x="607.5" y="1077.6" text-anchor="middle" font-size="13.1" fill="#2a2a2a">20</text>
<circle cx="643.0" cy="1073.0" r="13.8" fill="#fff" stroke="#3a3a3a" stroke-width="1.2"/>
<text x="643.0" y="1077.6" text-anchor="middle" font-size="13.1" fill="#2a2a2a">21</text>
</g>
</svg>
</body></html>
